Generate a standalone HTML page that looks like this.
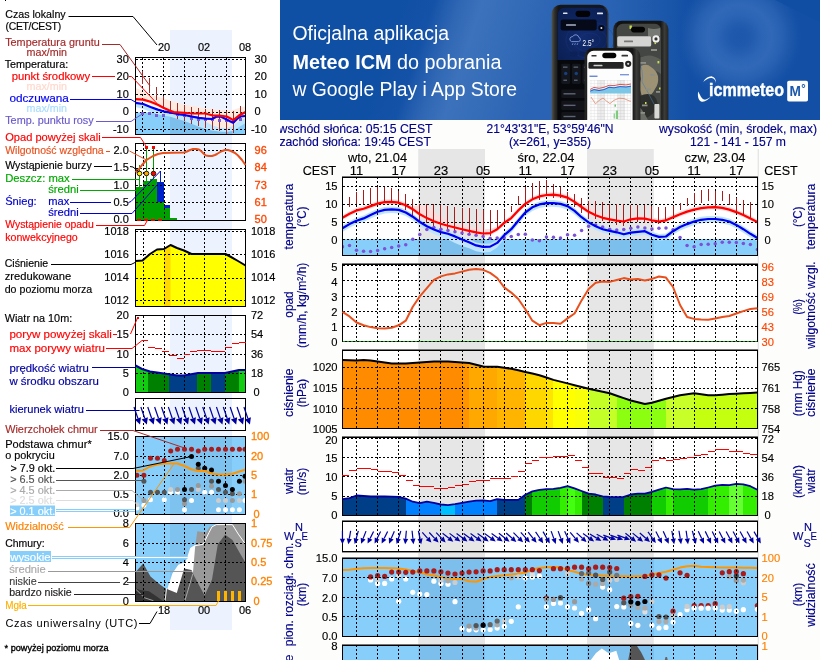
<!DOCTYPE html>
<html lang="pl">
<head>
<meta charset="utf-8">
<title>Meteogram ICM - legenda i prognoza</title>
<style>
html,body{margin:0;padding:0;background:#fff;}
body{width:820px;height:660px;overflow:hidden;position:relative;font-family:"Liberation Sans",Arial,Helvetica,sans-serif;}
#page{position:absolute;left:0;top:0;width:820px;height:660px;display:block;}
#page text{font-family:"Liberation Sans",Arial,Helvetica,sans-serif;}
.crisp{shape-rendering:crispEdges;}
</style>
</head>
<body>
<svg id="page" width="820" height="660" viewBox="0 0 820 660">
<g id="legend">
<rect x="0" y="0" width="280" height="660" fill="#fff"/>
<rect x="170" y="30" width="62" height="600" fill="#edf3fe"/>
<rect x="5" y="0" width="1" height="1.4" fill="#000" class="crisp"/>
<text x="5.2" y="18" font-size="11" fill="#000" stroke="#000" stroke-width="0.16" textLength="60.5" lengthAdjust="spacingAndGlyphs">Czas lokalny</text>
<text x="5.6" y="30" font-size="10.4" fill="#000" stroke="#000" stroke-width="0.16" textLength="55.5" lengthAdjust="spacing">(CET/CEST)</text>
<text x="5.2" y="46" font-size="11" fill="#a52a2a" stroke="#a52a2a" stroke-width="0.16" textLength="94.5" lengthAdjust="spacingAndGlyphs">Temperatura gruntu</text>
<text x="26.5" y="56" font-size="11" fill="#a52a2a" stroke="#a52a2a" stroke-width="0.16" textLength="40.5" lengthAdjust="spacingAndGlyphs">max/min</text>
<text x="4.7" y="67.5" font-size="11" fill="#000" stroke="#000" stroke-width="0.16" textLength="63.5" lengthAdjust="spacingAndGlyphs">Temperatura:</text>
<text x="11.7" y="79.5" font-size="11" fill="#f00" stroke="#f00" stroke-width="0.16" textLength="78.5" lengthAdjust="spacingAndGlyphs">punkt środkowy</text>
<text x="26.5" y="89.5" font-size="11" fill="#ffd8cc" stroke="#ffd8cc" stroke-width="0.16" textLength="40.5" lengthAdjust="spacingAndGlyphs">max/min</text>
<text x="9.4" y="102.4" font-size="11" fill="#0000f0" stroke="#0000f0" stroke-width="0.16" textLength="59.5" lengthAdjust="spacingAndGlyphs">odczuwana</text>
<text x="26.5" y="112.3" font-size="11" fill="#a8dcff" stroke="#a8dcff" stroke-width="0.16" textLength="40.5" lengthAdjust="spacingAndGlyphs">max/min</text>
<text x="5.2" y="124" font-size="11" fill="#6a5acd" stroke="#6a5acd" stroke-width="0.16" textLength="88.5" lengthAdjust="spacingAndGlyphs">Temp. punktu rosy</text>
<text x="5.2" y="141" font-size="11" fill="#f00" stroke="#f00" stroke-width="0.16" textLength="95.5" lengthAdjust="spacingAndGlyphs">Opad powyżej skali</text>
<text x="5.2" y="154.3" font-size="11" fill="#e8501e" stroke="#e8501e" stroke-width="0.16" textLength="98.5" lengthAdjust="spacingAndGlyphs">Wilgotność względna</text>
<text x="5.2" y="169" font-size="11" fill="#000" stroke="#000" stroke-width="0.16" textLength="86.5" lengthAdjust="spacingAndGlyphs">Wystąpienie burzy</text>
<text x="5.2" y="182.3" font-size="11" fill="#00a800" stroke="#00a800" stroke-width="0.16" textLength="64.5" lengthAdjust="spacingAndGlyphs">Deszcz: max</text>
<text x="48.2" y="193" font-size="11" fill="#00a800" stroke="#00a800" stroke-width="0.16" textLength="30.5" lengthAdjust="spacingAndGlyphs">średni</text>
<text x="5.2" y="205" font-size="11" fill="#0000cd" stroke="#0000cd" stroke-width="0.16" textLength="31.5" lengthAdjust="spacingAndGlyphs">Śnieg:</text>
<text x="48.2" y="205" font-size="11" fill="#0000cd" stroke="#0000cd" stroke-width="0.16" textLength="21" lengthAdjust="spacingAndGlyphs">max</text>
<text x="48.2" y="215.7" font-size="11" fill="#0000cd" stroke="#0000cd" stroke-width="0.16" textLength="30.5" lengthAdjust="spacingAndGlyphs">średni</text>
<text x="5.2" y="227.5" font-size="11" fill="#f00" stroke="#f00" stroke-width="0.16" textLength="88.5" lengthAdjust="spacingAndGlyphs">Wystąpienie opadu</text>
<text x="5.2" y="241" font-size="11" fill="#f00" stroke="#f00" stroke-width="0.16" textLength="72.5" lengthAdjust="spacingAndGlyphs">konwekcyjnego</text>
<text x="4.7" y="267" font-size="11" fill="#000" stroke="#000" stroke-width="0.16" textLength="43.5" lengthAdjust="spacingAndGlyphs">Ciśnienie</text>
<text x="4.7" y="280" font-size="11" fill="#000" stroke="#000" stroke-width="0.16" textLength="66.5" lengthAdjust="spacingAndGlyphs">zredukowane</text>
<text x="4.7" y="293.4" font-size="11" fill="#000" stroke="#000" stroke-width="0.16" textLength="87.5" lengthAdjust="spacingAndGlyphs">do poziomu morza</text>
<text x="4.7" y="322.4" font-size="11" fill="#000" stroke="#000" stroke-width="0.16" textLength="67.5" lengthAdjust="spacingAndGlyphs">Wiatr na 10m:</text>
<text x="9.4" y="338" font-size="11" fill="#f00" stroke="#f00" stroke-width="0.16" textLength="102.5" lengthAdjust="spacingAndGlyphs">poryw powyżej skali</text>
<text x="9.4" y="352.4" font-size="11" fill="#f00" stroke="#f00" stroke-width="0.16" textLength="95.5" lengthAdjust="spacingAndGlyphs">max porywy wiatru</text>
<text x="9.4" y="372.2" font-size="11" fill="#0000a0" stroke="#0000a0" stroke-width="0.16" textLength="79.5" lengthAdjust="spacingAndGlyphs">prędkość wiatru</text>
<text x="9.4" y="385" font-size="11" fill="#0000a0" stroke="#0000a0" stroke-width="0.16" textLength="89.5" lengthAdjust="spacingAndGlyphs">w środku obszaru</text>
<text x="9.4" y="412.5" font-size="11" fill="#0000a0" stroke="#0000a0" stroke-width="0.16" textLength="74.5" lengthAdjust="spacingAndGlyphs">kierunek wiatru</text>
<text x="5.2" y="432.7" font-size="11" fill="#a52a2a" stroke="#a52a2a" stroke-width="0.16" textLength="92.5" lengthAdjust="spacingAndGlyphs">Wierzchołek chmur</text>
<text x="5.2" y="447.5" font-size="11" fill="#000" stroke="#000" stroke-width="0.16" textLength="86.5" lengthAdjust="spacingAndGlyphs">Podstawa chmur*</text>
<text x="5.2" y="458.8" font-size="11" fill="#000" stroke="#000" stroke-width="0.16" textLength="49.5" lengthAdjust="spacingAndGlyphs">o pokryciu</text>
<text x="10.4" y="471.8" font-size="11" fill="#000" stroke="#000" stroke-width="0.16" textLength="45" lengthAdjust="spacingAndGlyphs">&gt; 7.9 okt.</text>
<text x="10.2" y="482.7" font-size="11" fill="#555" stroke="#555" stroke-width="0.16" textLength="45" lengthAdjust="spacingAndGlyphs">&gt; 6.5 okt.</text>
<text x="10.2" y="494" font-size="11" fill="#aaa" stroke="#aaa" stroke-width="0.16" textLength="45" lengthAdjust="spacingAndGlyphs">&gt; 4.5 okt.</text>
<text x="10.2" y="504.1" font-size="11" fill="#ddd" stroke="#ddd" stroke-width="0.16" textLength="45" lengthAdjust="spacingAndGlyphs">&gt; 2.5 okt.</text>
<rect x="10" y="505.5" width="45" height="10.5" fill="#87cefa"/>
<text x="10.2" y="514.6" font-size="11" fill="#fff" stroke="#fff" stroke-width="0.16" textLength="45" lengthAdjust="spacingAndGlyphs">&gt; 0.1 okt.</text>
<text x="5.2" y="529.5" font-size="11" fill="#ff8000" stroke="#ff8000" stroke-width="0.16" textLength="58.5" lengthAdjust="spacingAndGlyphs">Widzialność</text>
<text x="5.2" y="546.5" font-size="11" fill="#000" stroke="#000" stroke-width="0.16" textLength="39.5" lengthAdjust="spacingAndGlyphs">Chmury:</text>
<rect x="10" y="551" width="41" height="11" fill="#87cefa"/>
<text x="10.2" y="560.7" font-size="11" fill="#fff" stroke="#fff" stroke-width="0.16" textLength="40.5" lengthAdjust="spacingAndGlyphs">wysokie</text>
<text x="9.2" y="573.2" font-size="11" fill="#aaa" stroke="#aaa" stroke-width="0.16" textLength="36.5" lengthAdjust="spacingAndGlyphs">średnie</text>
<text x="9.2" y="584.7" font-size="11" fill="#444" stroke="#444" stroke-width="0.16" textLength="27.5" lengthAdjust="spacingAndGlyphs">niskie</text>
<text x="9.2" y="596" font-size="11" fill="#222" stroke="#222" stroke-width="0.16" textLength="62.5" lengthAdjust="spacingAndGlyphs">bardzo niskie</text>
<text x="5.2" y="608.7" font-size="11" fill="#ffb000" stroke="#ffb000" stroke-width="0.16" textLength="21.5" lengthAdjust="spacingAndGlyphs">Mgła</text>
<text x="5.4" y="626.6" font-size="11" fill="#000" textLength="132" lengthAdjust="spacing">Czas uniwersalny (UTC)</text>
<text x="4.6" y="650.8" font-size="9.3" fill="#000" textLength="104" lengthAdjust="spacingAndGlyphs" stroke="#000" stroke-width="0.35">* powyżej poziomu morza</text>
<text x="164" y="50.5" font-size="11" fill="#000" stroke="#000" stroke-width="0.16" text-anchor="middle">20</text>
<text x="204" y="50.5" font-size="11" fill="#000" stroke="#000" stroke-width="0.16" text-anchor="middle">02</text>
<text x="245" y="50.5" font-size="11" fill="#000" stroke="#000" stroke-width="0.16" text-anchor="middle">08</text>
<text x="164" y="614" font-size="11" fill="#000" stroke="#000" stroke-width="0.16" text-anchor="middle">18</text>
<text x="204" y="614" font-size="11" fill="#000" stroke="#000" stroke-width="0.16" text-anchor="middle">00</text>
<text x="245" y="614" font-size="11" fill="#000" stroke="#000" stroke-width="0.16" text-anchor="middle">06</text>
<rect x="135.5" y="57.5" width="110" height="77" fill="#fff"/>
<rect x="170" y="57.5" width="62" height="77" fill="#edf3fe"/>
<clipPath id="lc1"><rect x="135.5" y="57.5" width="110" height="77"/></clipPath>
<g clip-path="url(#lc1)">
<rect x="135.5" y="112.5" width="110" height="22" fill="#87cefa"/>
<rect x="170" y="112.5" width="62" height="22" fill="#7cbeec"/>
<polygon points="135.5,102.9 143.2,104 150.5,107 157.8,109.6 163.4,111.3 169.5,112.4 173.9,113.2 179.8,114.3 184.4,115 191.5,116.5 198.8,117.9 205.4,118.7 212,119 216.3,116.7 220.7,116.5 226.6,119.4 230,121.2 233.2,122.8 236.5,119.5 239.8,116.5 245.6,116 245.6,123 238.3,127.4 232.4,131.1 226.6,132.1 219.3,131.5 212,130.4 205.4,128.9 198.8,126.7 191.5,123.8 184.4,120.9 176.8,118.7 169.5,116.5 163.4,115.7 157.8,114.3 150.5,112.1 143.2,109.1 135.5,107" fill="#bfe6ff" stroke="none" stroke-width="1"/>
<polygon points="135.5,87.9 143.2,90.9 150.5,94.5 157.8,96.7 163.4,98.2 169.5,100.4 176.8,102.6 184.4,104.8 191.5,105.8 198.8,107 205.4,108.4 212,109.1 219.3,109.9 226.6,110.2 233.2,109.9 239.8,107.7 245.6,106.2 245.6,118 238.3,121.6 232.4,126 226.6,128.2 219.3,127.4 212,125.2 205.4,121.6 198,116.5 184.4,114.5 169.5,112.4 163.4,109.5 157.8,107 150.5,104 143.2,102 135.5,101.5" fill="#ffeae0" stroke="none" stroke-width="1"/>
</g>
<g class="crisp" stroke="#000" stroke-width="1" stroke-dasharray="2 2" fill="none">
<line x1="142.5" y1="57.5" x2="142.5" y2="134.5"/>
<line x1="163.5" y1="57.5" x2="163.5" y2="134.5"/>
<line x1="184.5" y1="57.5" x2="184.5" y2="134.5"/>
<line x1="205.5" y1="57.5" x2="205.5" y2="134.5"/>
<line x1="226.5" y1="57.5" x2="226.5" y2="134.5"/>
<line x1="135.5" y1="59.5" x2="245.5" y2="59.5"/>
<line x1="135.5" y1="76.5" x2="245.5" y2="76.5"/>
<line x1="135.5" y1="94.5" x2="245.5" y2="94.5"/>
<line x1="135.5" y1="112.5" x2="245.5" y2="112.5"/>
<line x1="135.5" y1="129.5" x2="245.5" y2="129.5"/>
</g>
<rect class="crisp" x="135.5" y="57.5" width="110" height="77" fill="none" stroke="#000" stroke-width="1"/>
<g stroke="#a52a2a" stroke-width="1" class="crisp">
<line x1="142.5" y1="70.6" x2="142.5" y2="83.5"/>
<line x1="149.5" y1="78" x2="149.5" y2="93"/>
<line x1="156.5" y1="87.2" x2="156.5" y2="99.6"/>
<line x1="163.5" y1="96" x2="163.5" y2="107"/>
<line x1="170.5" y1="101" x2="170.5" y2="114.3"/>
<line x1="177.5" y1="102.6" x2="177.5" y2="118.7"/>
<line x1="184.5" y1="104.8" x2="184.5" y2="120.9"/>
<line x1="191.5" y1="107" x2="191.5" y2="123.8"/>
<line x1="198.5" y1="107.7" x2="198.5" y2="126"/>
<line x1="205.5" y1="109.1" x2="205.5" y2="128.2"/>
<line x1="212.5" y1="109.1" x2="212.5" y2="129.6"/>
<line x1="219.5" y1="110.2" x2="219.5" y2="130.7"/>
<line x1="226.5" y1="111" x2="226.5" y2="134"/>
<line x1="233.5" y1="111" x2="233.5" y2="132.6"/>
<line x1="240.5" y1="106.2" x2="240.5" y2="120.9"/>
</g>
<g fill="#7b5bd6" class="crisp">
<rect x="141" y="112" width="3" height="3"/>
<rect x="148" y="112" width="3" height="3"/>
<rect x="155" y="114" width="3" height="3"/>
<rect x="162" y="114" width="3" height="3"/>
<rect x="169" y="111" width="3" height="3"/>
<rect x="176" y="113" width="3" height="3"/>
<rect x="183" y="114" width="3" height="3"/>
<rect x="190" y="117" width="3" height="3"/>
<rect x="197" y="118" width="3" height="3"/>
<rect x="204" y="118" width="3" height="3"/>
<rect x="211" y="118" width="3" height="3"/>
<rect x="218" y="119" width="3" height="3"/>
<rect x="225" y="119" width="3" height="3"/>
<rect x="232" y="120" width="3" height="3"/>
<rect x="239" y="118" width="3" height="3"/>
</g>
<polyline points="135.5,102.9 143.2,104 150.5,107 157.8,109.6 163.4,111.3 169.5,112.4 173.9,113.2 179.8,114.3 184.4,115 191.5,116.5 198.8,117.9 205.4,118.7 212,119 216.3,116.7 220.7,116.5 226.6,119.4 230,121.2 233.2,122.8 236.5,119.5 239.8,116.5 245.6,116" fill="none" stroke="#0000f0" stroke-width="2.2" stroke-linejoin="round" clip-path="url(#lc1)"/>
<polyline points="135.5,99.2 143.2,99.6 150.5,101.8 157.8,104.8 163.4,107.7 169.5,110.6 173.9,112.1 184.4,112.8 191.5,113.5 205.4,113.5 212,115.3 219.3,115.7 226.6,116.5 230,118.3 233.2,120.1 236.5,117.5 239.8,115 245.6,112.1" fill="none" stroke="#f00" stroke-width="2.2" stroke-linejoin="round" clip-path="url(#lc1)"/>
<rect class="crisp" x="135.5" y="57.5" width="110" height="77" fill="none" stroke="#000" stroke-width="1"/>
<text x="128.8" y="62.9" font-size="11" fill="#000" stroke="#000" stroke-width="0.16" text-anchor="end">30</text>
<text x="128.8" y="80.4" font-size="11" fill="#000" stroke="#000" stroke-width="0.16" text-anchor="end">20</text>
<text x="128.8" y="97.9" font-size="11" fill="#000" stroke="#000" stroke-width="0.16" text-anchor="end">10</text>
<text x="128.8" y="115.4" font-size="11" fill="#000" stroke="#000" stroke-width="0.16" text-anchor="end">0</text>
<text x="128.8" y="132.9" font-size="11" fill="#000" stroke="#000" stroke-width="0.16" text-anchor="end">-10</text>
<text x="254.6" y="62.9" font-size="11" fill="#000" stroke="#000" stroke-width="0.16">30</text>
<text x="254.6" y="80.4" font-size="11" fill="#000" stroke="#000" stroke-width="0.16">20</text>
<text x="254.6" y="97.9" font-size="11" fill="#000" stroke="#000" stroke-width="0.16">10</text>
<text x="254.6" y="115.4" font-size="11" fill="#000" stroke="#000" stroke-width="0.16">0</text>
<text x="250.9" y="132.9" font-size="11" fill="#000" stroke="#000" stroke-width="0.16">-10</text>
<rect x="135.5" y="143.5" width="110" height="77" fill="#fff"/>
<rect x="170" y="143.5" width="62" height="77" fill="#edf3fe"/>
<g class="crisp">
<rect x="135.5" y="187" width="7" height="33.5" fill="#00a000"/>
<rect x="142.5" y="181" width="7" height="39.5" fill="#00a000"/>
<rect x="149.5" y="179" width="7.5" height="41.5" fill="#00a000"/>
<rect x="157" y="182" width="7" height="19.5" fill="#0020c8"/>
<rect x="157" y="201.5" width="7" height="19" fill="#00a000"/>
<rect x="164" y="205" width="6" height="2.5" fill="#0020c8"/>
<rect x="164" y="207.5" width="6" height="13" fill="#00a000"/>
<rect x="170" y="218" width="7" height="2.5" fill="#00a000"/>
<line x1="139.5" y1="165" x2="139.5" y2="187" stroke="#00a000" stroke-width="1"/>
<line x1="146.5" y1="146" x2="146.5" y2="181" stroke="#00a000" stroke-width="1"/>
<line x1="153.5" y1="146" x2="153.5" y2="179" stroke="#00a000" stroke-width="1"/>
<line x1="160.5" y1="171" x2="160.5" y2="182" stroke="#0020c8" stroke-width="1"/>
</g>
<g class="crisp" stroke="#000" stroke-width="1" stroke-dasharray="2 2" fill="none">
<line x1="143.5" y1="143.5" x2="143.5" y2="220.5"/>
<line x1="164.5" y1="143.5" x2="164.5" y2="220.5"/>
<line x1="184.5" y1="143.5" x2="184.5" y2="220.5"/>
<line x1="204.5" y1="143.5" x2="204.5" y2="220.5"/>
<line x1="225.5" y1="143.5" x2="225.5" y2="220.5"/>
<line x1="135.5" y1="150.5" x2="245.5" y2="150.5"/>
<line x1="135.5" y1="168.5" x2="245.5" y2="168.5"/>
<line x1="135.5" y1="185.5" x2="245.5" y2="185.5"/>
<line x1="135.5" y1="202.5" x2="245.5" y2="202.5"/>
</g>
<rect class="crisp" x="135.5" y="143.5" width="110" height="77" fill="none" stroke="#000" stroke-width="1"/>
<g class="crisp" fill="#f00">
<rect x="145" y="146" width="3" height="3" fill="#f00"/>
<rect x="152" y="146" width="3" height="3" fill="#f00"/>
<rect x="137" y="219" width="4" height="1.5" fill="#f00"/>
<rect x="144" y="219" width="4" height="1.5" fill="#f00"/>
<rect x="151" y="219" width="4" height="1.5" fill="#f00"/>
<rect x="158" y="219" width="4" height="1.5" fill="#f00"/>
</g>
<polyline points="135.5,172.3 139,169 142,165 146.5,160 153,156 158,154 163,153 184,152.5 187,151.5 190,150 193,149 196,149 199,149.5 201,151 204,154 206,155.5 209,156 212,156 215,155 217,154 221,151.5 225,150 228,150 231,151 235,153 238,155.5 242,160 245.5,165" fill="none" stroke="#e8501e" stroke-width="2" stroke-linejoin="round"/>
<circle cx="139.5" cy="173.5" r="2.3" fill="#ffee00" stroke="#302000" stroke-width="1"/>
<circle cx="146.5" cy="173.5" r="2.3" fill="#ffa500" stroke="#302000" stroke-width="1"/>
<circle cx="153.5" cy="173.5" r="2.3" fill="#ff0000" stroke="#302000" stroke-width="1"/>
<text x="128.8" y="153.9" font-size="11" fill="#000" stroke="#000" stroke-width="0.16" text-anchor="end">2.0</text>
<text x="128.8" y="171.4" font-size="11" fill="#000" stroke="#000" stroke-width="0.16" text-anchor="end">1.5</text>
<text x="128.8" y="188.9" font-size="11" fill="#000" stroke="#000" stroke-width="0.16" text-anchor="end">1.0</text>
<text x="128.8" y="206.4" font-size="11" fill="#000" stroke="#000" stroke-width="0.16" text-anchor="end">0.5</text>
<text x="128.8" y="223.4" font-size="11" fill="#000" stroke="#000" stroke-width="0.16" text-anchor="end">0.0</text>
<text x="254.6" y="153.9" font-size="11" fill="#ff4500" stroke="#ff4500" stroke-width="0.3">96</text>
<text x="254.6" y="171.4" font-size="11" fill="#ff4500" stroke="#ff4500" stroke-width="0.3">84</text>
<text x="254.6" y="188.9" font-size="11" fill="#ff4500" stroke="#ff4500" stroke-width="0.3">73</text>
<text x="254.6" y="206.4" font-size="11" fill="#ff4500" stroke="#ff4500" stroke-width="0.3">61</text>
<text x="254.6" y="223.4" font-size="11" fill="#ff4500" stroke="#ff4500" stroke-width="0.3">50</text>
<rect x="135.5" y="229.5" width="110" height="77" fill="#fff"/>
<rect x="170" y="229.5" width="62" height="77" fill="#edf3fe"/>
<polygon points="135.5,261 142.5,260.5 150,254 157,249.5 164,249 170.5,245 177,248 184,250.5 191.5,254 225.5,254 231,257 238,261 245.5,265.5 245.5,306.5 135.5,306.5" fill="#ffff00" stroke="none" stroke-width="1"/>
<polygon points="164,249 170.5,245 170.5,306.5 164,306.5" fill="#ffd800" stroke="none" stroke-width="1"/>
<g class="crisp" stroke="#000" stroke-width="1" stroke-dasharray="2 2" fill="none">
<line x1="143.5" y1="229.5" x2="143.5" y2="306.5"/>
<line x1="164.5" y1="229.5" x2="164.5" y2="306.5"/>
<line x1="184.5" y1="229.5" x2="184.5" y2="306.5"/>
<line x1="204.5" y1="229.5" x2="204.5" y2="306.5"/>
<line x1="225.5" y1="229.5" x2="225.5" y2="306.5"/>
<line x1="135.5" y1="231.5" x2="245.5" y2="231.5"/>
<line x1="135.5" y1="254.5" x2="245.5" y2="254.5"/>
<line x1="135.5" y1="278.5" x2="245.5" y2="278.5"/>
<line x1="135.5" y1="300.5" x2="245.5" y2="300.5"/>
</g>
<rect class="crisp" x="135.5" y="229.5" width="110" height="77" fill="none" stroke="#000" stroke-width="1"/>
<polyline points="135.5,261 142.5,260.5 150,254 157,249.5 164,249 170.5,245 177,248 184,250.5 191.5,254 225.5,254 231,257 238,261 245.5,265.5" fill="none" stroke="#000" stroke-width="2" stroke-linejoin="round"/>
<text x="128.8" y="234.9" font-size="11" fill="#000" stroke="#000" stroke-width="0.16" text-anchor="end">1018</text>
<text x="128.8" y="257.9" font-size="11" fill="#000" stroke="#000" stroke-width="0.16" text-anchor="end">1016</text>
<text x="128.8" y="281.4" font-size="11" fill="#000" stroke="#000" stroke-width="0.16" text-anchor="end">1014</text>
<text x="128.8" y="304.4" font-size="11" fill="#000" stroke="#000" stroke-width="0.16" text-anchor="end">1012</text>
<text x="251" y="234.9" font-size="11" fill="#000" stroke="#000" stroke-width="0.16">1018</text>
<text x="251" y="257.9" font-size="11" fill="#000" stroke="#000" stroke-width="0.16">1016</text>
<text x="251" y="281.4" font-size="11" fill="#000" stroke="#000" stroke-width="0.16">1014</text>
<text x="251" y="304.4" font-size="11" fill="#000" stroke="#000" stroke-width="0.16">1012</text>
<rect x="135.5" y="315.5" width="110" height="77" fill="#fff"/>
<rect x="170" y="315.5" width="62" height="77" fill="#edf3fe"/>
<polygon points="135.5,365.5 142,369 148,370.88 148,392.5 135.5,392.5" fill="#11cc11" stroke="none" stroke-width="1" class="crisp"/>
<polygon points="148,370.88 150,371.5 164,373.5 169,374.27 169,392.5 148,392.5" fill="#008000" stroke="none" stroke-width="1" class="crisp"/>
<polygon points="169,374.27 177,375.5 184,375.5 197,373.18 197,392.5 169,392.5" fill="#003f87" stroke="none" stroke-width="1" class="crisp"/>
<polygon points="197,373.18 198,373 211,373 211,392.5 197,392.5" fill="#008000" stroke="none" stroke-width="1" class="crisp"/>
<polygon points="211,373 225,373 225,392.5 211,392.5" fill="#003f87" stroke="none" stroke-width="1" class="crisp"/>
<polygon points="225,373 232,371.5 239,370 239,392.5 225,392.5" fill="#008000" stroke="none" stroke-width="1" class="crisp"/>
<polygon points="239,370 245.5,370 245.5,392.5 239,392.5" fill="#11cc11" stroke="none" stroke-width="1" class="crisp"/>
<g class="crisp" stroke="#000" stroke-width="1" stroke-dasharray="2 2" fill="none">
<line x1="143.5" y1="315.5" x2="143.5" y2="392.5"/>
<line x1="164.5" y1="315.5" x2="164.5" y2="392.5"/>
<line x1="184.5" y1="315.5" x2="184.5" y2="392.5"/>
<line x1="204.5" y1="315.5" x2="204.5" y2="392.5"/>
<line x1="225.5" y1="315.5" x2="225.5" y2="392.5"/>
<line x1="135.5" y1="334.5" x2="245.5" y2="334.5"/>
<line x1="135.5" y1="354.5" x2="245.5" y2="354.5"/>
<line x1="135.5" y1="373.5" x2="245.5" y2="373.5"/>
</g>
<rect class="crisp" x="135.5" y="315.5" width="110" height="77" fill="none" stroke="#000" stroke-width="1"/>
<polyline points="135.5,365.5 142,369 150,371.5 164,373.5 177,375.5 184,375.5 198,373 225,373 232,371.5 239,370 245.5,370" fill="none" stroke="#00009c" stroke-width="2" stroke-linejoin="round"/>
<g stroke="#f00" stroke-width="1" class="crisp">
<line x1="142" y1="340.5" x2="148" y2="340.5"/>
<line x1="148" y1="347.5" x2="155" y2="347.5"/>
<line x1="155" y1="348.5" x2="162" y2="348.5"/>
<line x1="162" y1="351.5" x2="169" y2="351.5"/>
<line x1="169" y1="355.5" x2="176.5" y2="355.5"/>
<line x1="176.5" y1="358.5" x2="184" y2="358.5"/>
<line x1="184" y1="354.5" x2="190" y2="354.5"/>
<line x1="190" y1="351.5" x2="197" y2="351.5"/>
<line x1="197" y1="350.5" x2="211" y2="350.5"/>
<line x1="211" y1="351.5" x2="225" y2="351.5"/>
<line x1="225" y1="347.5" x2="232" y2="347.5"/>
<line x1="232" y1="343.5" x2="239" y2="343.5"/>
<line x1="239" y1="342.5" x2="245.5" y2="342.5"/>
</g>
<rect x="136.5" y="316.5" width="2" height="2" fill="#f00" class="crisp"/>
<text x="128.8" y="319.4" font-size="11" fill="#000" stroke="#000" stroke-width="0.16" text-anchor="end">20</text>
<text x="128.8" y="337.9" font-size="11" fill="#000" stroke="#000" stroke-width="0.16" text-anchor="end">15</text>
<text x="128.8" y="357.9" font-size="11" fill="#000" stroke="#000" stroke-width="0.16" text-anchor="end">10</text>
<text x="128.8" y="376.9" font-size="11" fill="#000" stroke="#000" stroke-width="0.16" text-anchor="end">5</text>
<text x="128.8" y="395.9" font-size="11" fill="#000" stroke="#000" stroke-width="0.16" text-anchor="end">0</text>
<text x="251" y="319.4" font-size="11" fill="#000" stroke="#000" stroke-width="0.16">72</text>
<text x="251" y="337.9" font-size="11" fill="#000" stroke="#000" stroke-width="0.16">54</text>
<text x="251" y="357.9" font-size="11" fill="#000" stroke="#000" stroke-width="0.16">36</text>
<text x="251" y="376.9" font-size="11" fill="#000" stroke="#000" stroke-width="0.16">18</text>
<text x="253.4" y="395.9" font-size="11" fill="#000" stroke="#000" stroke-width="0.16">0</text>
<rect x="135.5" y="398.5" width="110" height="32" fill="#fff"/>
<rect x="170" y="398.5" width="62" height="32" fill="#edf3fe"/>
<g class="crisp" stroke="#000" stroke-width="1" stroke-dasharray="2 2" fill="none">
<line x1="143.5" y1="398.5" x2="143.5" y2="430.5"/>
<line x1="164.5" y1="398.5" x2="164.5" y2="430.5"/>
<line x1="184.5" y1="398.5" x2="184.5" y2="430.5"/>
<line x1="204.5" y1="398.5" x2="204.5" y2="430.5"/>
<line x1="225.5" y1="398.5" x2="225.5" y2="430.5"/>
</g>
<rect class="crisp" x="135.5" y="398.5" width="110" height="32" fill="none" stroke="#000" stroke-width="1"/>
<g stroke="#0000a0" stroke-width="1.2" fill="#0000a0">
<path d="M134 407.05L137.86 418.31" fill="none"/>
<path d="M140 424.55L134.74 419.38L140.98 417.24Z" stroke="none"/>
<path d="M140.87 407.05L144.73 418.31" fill="none"/>
<path d="M146.87 424.55L141.61 419.38L147.85 417.24Z" stroke="none"/>
<path d="M147.74 407.05L151.6 418.31" fill="none"/>
<path d="M153.74 424.55L148.48 419.38L154.72 417.24Z" stroke="none"/>
<path d="M154.61 407.05L158.47 418.31" fill="none"/>
<path d="M160.61 424.55L155.35 419.38L161.59 417.24Z" stroke="none"/>
<path d="M161.48 407.05L165.34 418.31" fill="none"/>
<path d="M167.48 424.55L162.22 419.38L168.46 417.24Z" stroke="none"/>
<path d="M168.35 407.05L172.21 418.31" fill="none"/>
<path d="M174.35 424.55L169.09 419.38L175.33 417.24Z" stroke="none"/>
<path d="M175.22 407.05L179.08 418.31" fill="none"/>
<path d="M181.22 424.55L175.96 419.38L182.2 417.24Z" stroke="none"/>
<path d="M182.09 407.05L185.95 418.31" fill="none"/>
<path d="M188.09 424.55L182.83 419.38L189.07 417.24Z" stroke="none"/>
<path d="M188.96 407.05L192.82 418.31" fill="none"/>
<path d="M194.96 424.55L189.7 419.38L195.94 417.24Z" stroke="none"/>
<path d="M195.83 407.05L199.69 418.31" fill="none"/>
<path d="M201.83 424.55L196.57 419.38L202.81 417.24Z" stroke="none"/>
<path d="M202.7 407.05L206.56 418.31" fill="none"/>
<path d="M208.7 424.55L203.44 419.38L209.68 417.24Z" stroke="none"/>
<path d="M209.57 407.05L213.43 418.31" fill="none"/>
<path d="M215.57 424.55L210.31 419.38L216.55 417.24Z" stroke="none"/>
<path d="M216.44 407.05L220.3 418.31" fill="none"/>
<path d="M222.44 424.55L217.18 419.38L223.42 417.24Z" stroke="none"/>
<path d="M223.31 407.05L227.17 418.31" fill="none"/>
<path d="M229.31 424.55L224.05 419.38L230.29 417.24Z" stroke="none"/>
<path d="M230.18 407.05L234.04 418.31" fill="none"/>
<path d="M236.18 424.55L230.92 419.38L237.16 417.24Z" stroke="none"/>
<path d="M237.05 407.05L240.91 418.31" fill="none"/>
<path d="M243.05 424.55L237.79 419.38L244.03 417.24Z" stroke="none"/>
<path d="M243.92 407.05L247.78 418.31" fill="none"/>
<path d="M249.92 424.55L244.66 419.38L250.9 417.24Z" stroke="none"/>
</g>
<rect x="135.5" y="436.5" width="110" height="78" fill="#87cefa"/>
<rect x="170" y="436.5" width="62" height="78" fill="#7ec2f0"/>
<g class="crisp" stroke="#000" stroke-width="1" stroke-dasharray="2 2" fill="none">
<line x1="143.5" y1="436.5" x2="143.5" y2="514.5"/>
<line x1="164.5" y1="436.5" x2="164.5" y2="514.5"/>
<line x1="184.5" y1="436.5" x2="184.5" y2="514.5"/>
<line x1="204.5" y1="436.5" x2="204.5" y2="514.5"/>
<line x1="225.5" y1="436.5" x2="225.5" y2="514.5"/>
<line x1="135.5" y1="456.5" x2="245.5" y2="456.5"/>
<line x1="135.5" y1="475.5" x2="245.5" y2="475.5"/>
<line x1="135.5" y1="494.5" x2="245.5" y2="494.5"/>
</g>
<rect class="crisp" x="135.5" y="436.5" width="110" height="78" fill="none" stroke="#000" stroke-width="1"/>
<clipPath id="lc6"><rect x="135.5" y="436.5" width="110" height="78"/></clipPath>
<g clip-path="url(#lc6)">
<circle cx="150.5" cy="499.8" r="2.5" fill="#fff"/>
<circle cx="164.3" cy="499.8" r="2.5" fill="#fff"/>
<circle cx="170.7" cy="492.3" r="2.5" fill="#fff"/>
<circle cx="177.5" cy="492.3" r="2.5" fill="#fff"/>
<circle cx="191.5" cy="500.4" r="2.5" fill="#fff"/>
<circle cx="204.7" cy="492.3" r="2.5" fill="#fff"/>
<circle cx="211.5" cy="492.3" r="2.5" fill="#fff"/>
<circle cx="184.5" cy="509.7" r="2.5" fill="#fff"/>
<circle cx="218.5" cy="509.7" r="2.5" fill="#fff"/>
<circle cx="225.5" cy="509.7" r="2.5" fill="#fff"/>
<circle cx="232.4" cy="509.7" r="2.5" fill="#fff"/>
<circle cx="239.4" cy="509.7" r="2.5" fill="#fff"/>
<circle cx="143.9" cy="505.3" r="2.5" fill="#fff"/>
<circle cx="136.9" cy="508" r="2.5" fill="#fff"/>
<circle cx="245" cy="500.4" r="2.5" fill="#fff"/>
<circle cx="170.7" cy="489.5" r="2.5" fill="#ccc"/>
<circle cx="198.3" cy="489.5" r="2.5" fill="#ccc"/>
<circle cx="218.5" cy="500.4" r="2.5" fill="#ccc"/>
<circle cx="225.5" cy="500.4" r="2.5" fill="#ccc"/>
<circle cx="239.4" cy="500.4" r="2.5" fill="#ccc"/>
<circle cx="136.9" cy="504.8" r="2.5" fill="#ccc"/>
<circle cx="143.9" cy="500.4" r="2.5" fill="#999"/>
<circle cx="177.5" cy="489.5" r="2.5" fill="#999"/>
<circle cx="198.3" cy="485.5" r="2.5" fill="#999"/>
<circle cx="211.5" cy="486.2" r="2.5" fill="#999"/>
<circle cx="232.4" cy="500.4" r="2.5" fill="#999"/>
<circle cx="239.4" cy="493.8" r="2.5" fill="#999"/>
<circle cx="245" cy="481.3" r="2.5" fill="#999"/>
<circle cx="184.5" cy="503.7" r="2.5" fill="#999"/>
<circle cx="143.9" cy="481.3" r="2.5" fill="#555"/>
<circle cx="150.5" cy="492.3" r="2.5" fill="#555"/>
<circle cx="157.5" cy="492.3" r="2.5" fill="#555"/>
<circle cx="164.3" cy="492.3" r="2.5" fill="#555"/>
<circle cx="184.5" cy="499.8" r="2.5" fill="#555"/>
<circle cx="211.5" cy="481.3" r="2.5" fill="#555"/>
<circle cx="218.5" cy="489.5" r="2.5" fill="#555"/>
<circle cx="225.5" cy="492.3" r="2.5" fill="#555"/>
<circle cx="232.4" cy="493.8" r="2.5" fill="#555"/>
<circle cx="191.5" cy="489.5" r="2.5" fill="#555"/>
<circle cx="198.3" cy="468.2" r="2.5" fill="#555"/>
<circle cx="191.5" cy="456.5" r="2.5" fill="#000"/>
<circle cx="198.3" cy="464.2" r="2.5" fill="#000"/>
<circle cx="204.7" cy="468.2" r="2.5" fill="#000"/>
<circle cx="211.5" cy="470.1" r="2.5" fill="#000"/>
<circle cx="218.5" cy="481.3" r="2.5" fill="#000"/>
<circle cx="225.5" cy="485.5" r="2.5" fill="#000"/>
<circle cx="232.4" cy="489.5" r="2.5" fill="#000"/>
<circle cx="239.4" cy="481.3" r="2.5" fill="#000"/>
<circle cx="245" cy="476.3" r="2.5" fill="#000"/>
<circle cx="184.5" cy="489.5" r="2.5" fill="#000"/>
<circle cx="136.9" cy="475.2" r="2.5" fill="#a81c1c"/>
<circle cx="143.9" cy="475.2" r="2.5" fill="#a81c1c"/>
<circle cx="150.5" cy="458.3" r="2.5" fill="#a81c1c"/>
<circle cx="157.5" cy="458.3" r="2.5" fill="#a81c1c"/>
<circle cx="164.3" cy="460.5" r="2.5" fill="#a81c1c"/>
<circle cx="170.7" cy="451" r="2.5" fill="#a81c1c"/>
<circle cx="177.5" cy="449.3" r="2.5" fill="#a81c1c"/>
<circle cx="184.5" cy="449.3" r="2.5" fill="#a81c1c"/>
<circle cx="191.5" cy="449.3" r="2.5" fill="#a81c1c"/>
<circle cx="198.3" cy="451" r="2.5" fill="#a81c1c"/>
<circle cx="204.7" cy="449.3" r="2.5" fill="#a81c1c"/>
<circle cx="211.5" cy="449.3" r="2.5" fill="#a81c1c"/>
<circle cx="218.5" cy="449.3" r="2.5" fill="#a81c1c"/>
<circle cx="225.5" cy="449.3" r="2.5" fill="#a81c1c"/>
<circle cx="232.4" cy="449.3" r="2.5" fill="#a81c1c"/>
<circle cx="239.4" cy="449.3" r="2.5" fill="#a81c1c"/>
<circle cx="245" cy="449.3" r="2.5" fill="#a81c1c"/>
<polyline points="135.5,470.8 143,470.5 150,466.5 157,464.5 164,463.5 177.5,463.5 184.5,466 191.5,469.5 198,471 205,471 211.5,473.5 218.5,474.5 225.5,474.5 232.5,473.8 239.5,471.5 245.5,469.5" fill="none" stroke="#ff9500" stroke-width="2" stroke-linejoin="round"/>
</g>
<rect class="crisp" x="135.5" y="436.5" width="110" height="78" fill="none" stroke="#000" stroke-width="1"/>
<text x="128.8" y="440.4" font-size="11" fill="#000" stroke="#000" stroke-width="0.16" text-anchor="end">15.0</text>
<text x="128.8" y="459.9" font-size="11" fill="#000" stroke="#000" stroke-width="0.16" text-anchor="end">7.0</text>
<text x="128.8" y="478.9" font-size="11" fill="#000" stroke="#000" stroke-width="0.16" text-anchor="end">2.0</text>
<text x="128.8" y="498.4" font-size="11" fill="#000" stroke="#000" stroke-width="0.16" text-anchor="end">0.5</text>
<text x="128.8" y="517.4" font-size="11" fill="#000" stroke="#000" stroke-width="0.16" text-anchor="end">0.0</text>
<text x="251" y="440.4" font-size="11" fill="#ff8000" stroke="#ff8000" stroke-width="0.3">100</text>
<text x="251" y="459.9" font-size="11" fill="#ff8000" stroke="#ff8000" stroke-width="0.3">20</text>
<text x="251" y="478.9" font-size="11" fill="#ff8000" stroke="#ff8000" stroke-width="0.3">5</text>
<text x="251" y="498.4" font-size="11" fill="#ff8000" stroke="#ff8000" stroke-width="0.3">1</text>
<text x="253.4" y="517.9" font-size="11" fill="#ff8000" stroke="#ff8000" stroke-width="0.3">0</text>
<rect x="135.5" y="523.5" width="110" height="78" fill="#87cefa"/>
<rect x="170" y="523.5" width="62" height="78" fill="#7ec2f0"/>
<clipPath id="lc7"><rect x="135.5" y="523.5" width="110" height="78"/></clipPath>
<g clip-path="url(#lc7)">
<polygon points="165.1,601.5 168,586.8 172.4,573.6 178.3,564.8 185.6,561.9 190,548.7 194.4,545.8 203.2,544.3 209,532.6 212,526.8 216.3,524.6 232.4,524.6 238.3,534.1 246,544.3 246,601.5" fill="#fff" stroke="none" stroke-width="1"/>
<polygon points="192.9,573.6 195.1,547.3 197.3,531.2 206.1,532.6 209.8,526.8 216.3,524.6 222,523.5 246,523.5 246,602 185,602" fill="#999" stroke="none" stroke-width="1"/>
<polyline points="190,548.7 194.4,545.8 203.2,544.3 209,532.6 212,526.8 216.3,524.6 232.4,524.6 238.3,534.1 245.6,544.3" fill="none" stroke="#fff" stroke-width="1"/>
<polygon points="135.5,572.2 143.2,563.4 150.5,576.5 159.3,583.9 165.1,588.2 176.8,592.9 184.2,568.5 191.5,570 194.4,576.5 204.6,595.6 212,579.5 217.8,544.3 225.1,534.8 232.4,540 239.8,553.1 246,563.4 246,602 135.5,602" fill="#555" stroke="none" stroke-width="1"/>
<polygon points="135.5,588.2 140,590 149,591.2 156,596 163.7,601.5 135.5,601.5" fill="#333" stroke="none" stroke-width="1"/>
<polyline points="135.5,589 144.6,597.8 153.4,600.7" fill="none" stroke="#bbb" stroke-width="0.8"/>
<polyline points="165.1,600.7 166.6,588.2" fill="none" stroke="#fff" stroke-width="0.9"/>
<polyline points="184.9,600.7 192.9,573.6" fill="none" stroke="#bbb" stroke-width="0.8"/>
</g>
<g class="crisp" stroke="#000" stroke-width="1" stroke-dasharray="2 2" fill="none">
<line x1="143.5" y1="523.5" x2="143.5" y2="601.5"/>
<line x1="164.5" y1="523.5" x2="164.5" y2="601.5"/>
<line x1="184.5" y1="523.5" x2="184.5" y2="601.5"/>
<line x1="204.5" y1="523.5" x2="204.5" y2="601.5"/>
<line x1="225.5" y1="523.5" x2="225.5" y2="601.5"/>
<line x1="135.5" y1="543.5" x2="245.5" y2="543.5"/>
<line x1="135.5" y1="562.5" x2="245.5" y2="562.5"/>
<line x1="135.5" y1="582.5" x2="245.5" y2="582.5"/>
</g>
<rect class="crisp" x="135.5" y="523.5" width="110" height="78" fill="none" stroke="#000" stroke-width="1"/>
<g class="crisp">
<rect x="217" y="590.5" width="3" height="11" fill="#ffb400"/>
<rect x="224" y="590.5" width="3" height="11" fill="#ffb400"/>
<rect x="231" y="590.5" width="3" height="11" fill="#ffb400"/>
<rect x="238" y="590.5" width="3" height="11" fill="#ffb400"/>
</g>
<rect class="crisp" x="135.5" y="523.5" width="110" height="78" fill="none" stroke="#000" stroke-width="1"/>
<text x="128.8" y="527.4" font-size="11" fill="#000" stroke="#000" stroke-width="0.16" text-anchor="end">8</text>
<text x="128.8" y="546.9" font-size="11" fill="#000" stroke="#000" stroke-width="0.16" text-anchor="end">6</text>
<text x="128.8" y="565.9" font-size="11" fill="#000" stroke="#000" stroke-width="0.16" text-anchor="end">4</text>
<text x="128.8" y="585.4" font-size="11" fill="#000" stroke="#000" stroke-width="0.16" text-anchor="end">2</text>
<text x="128.8" y="604.9" font-size="11" fill="#000" stroke="#000" stroke-width="0.16" text-anchor="end">0</text>
<text x="251" y="527.4" font-size="11" fill="#ff8000" stroke="#ff8000" stroke-width="0.3">1</text>
<text x="251" y="546.9" font-size="11" fill="#ff8000" stroke="#ff8000" stroke-width="0.3">0.75</text>
<text x="251" y="565.9" font-size="11" fill="#ff8000" stroke="#ff8000" stroke-width="0.3">0.5</text>
<text x="251" y="585.4" font-size="11" fill="#ff8000" stroke="#ff8000" stroke-width="0.3">0.25</text>
<text x="253.4" y="604.9" font-size="11" fill="#ff8000" stroke="#ff8000" stroke-width="0.3">0</text>
<g fill="none" stroke-width="1">
<polyline points="68.5,16.5 133,16.5 157,45" fill="none" stroke="#000" stroke-width="1"/>
<polyline points="102,44.5 120,44.5 150,86" fill="none" stroke="#a52a2a" stroke-width="1"/>
<polyline points="92,76.5 115,76.5" fill="none" stroke="#f00" stroke-width="1"/>
<polyline points="129,76.5 131.5,76.5 157,103.5" fill="none" stroke="#f00" stroke-width="1"/>
<polyline points="70,99.5 131,99.5 136,102.5" fill="none" stroke="#0000f0" stroke-width="1"/>
<polyline points="96,121.5 131,121.5 136,118 141.5,114.5" fill="none" stroke="#6a5acd" stroke-width="1"/>
<polyline points="102,137.5 140.5,137.5 146,146" fill="none" stroke="#f00" stroke-width="1"/>
<polyline points="106,151.5 110,151.5" fill="none" stroke="#e8501e" stroke-width="1"/>
<polyline points="129.5,151 146.5,160" fill="none" stroke="#e8501e" stroke-width="1"/>
<polyline points="94,166.5 112,166.5" fill="none" stroke="#000" stroke-width="1"/>
<polyline points="130,166.5 133,167 139,172" fill="none" stroke="#000" stroke-width="1"/>
<polyline points="72,179.5 139,179.5" fill="none" stroke="#00a800" stroke-width="1"/>
<polyline points="80,190.5 136,190.5" fill="none" stroke="#00a800" stroke-width="1"/>
<polyline points="70,202.5 111,202.5" fill="none" stroke="#0000cd" stroke-width="1"/>
<polyline points="128.5,202.5 131,201.5 160.5,171" fill="none" stroke="#0000cd" stroke-width="1"/>
<polyline points="80,213.5 132,213.5 157.5,184.5" fill="none" stroke="#0000cd" stroke-width="1"/>
<polyline points="96,225.5 144.5,225.5 147,221" fill="none" stroke="#f00" stroke-width="1"/>
<polyline points="51,264.5 131,264.5 136,262" fill="none" stroke="#000" stroke-width="1"/>
<polyline points="113,334.5 117,334.5" fill="none" stroke="#f00" stroke-width="1"/>
<polyline points="130.5,334 137.5,318" fill="none" stroke="#f00" stroke-width="1"/>
<polyline points="106,348.5 132,348.5 142,340.5" fill="none" stroke="#f00" stroke-width="1"/>
<polyline points="92,367.5 135.5,367.5" fill="none" stroke="#0000a0" stroke-width="1"/>
<polyline points="86,410.5 139.5,410.5" fill="none" stroke="#0000a0" stroke-width="1"/>
<polyline points="100,430.5 133,430.5 184.5,448" fill="none" stroke="#a52a2a" stroke-width="1"/>
<polyline points="56,468.5 133,468.5 191.5,456.5" fill="none" stroke="#000" stroke-width="1"/>
<polyline points="56,480.5 143,480.5" fill="none" stroke="#555" stroke-width="1"/>
<polyline points="56,490.5 132,490.5 143,500" fill="none" stroke="#aaa" stroke-width="1"/>
<polyline points="56,500.5 133,500.5 137,504.5" fill="none" stroke="#ddd" stroke-width="1"/>
<polyline points="56,509.5 135,509.5" fill="none" stroke="#87cefa" stroke-width="1"/>
<polyline points="56,511.5 135,511.5" fill="none" stroke="#87cefa" stroke-width="1"/>
<polyline points="68,527.5 129.5,527.5 173.5,464.5" fill="none" stroke="#ff9500" stroke-width="1"/>
<polyline points="52,556.5 187.5,556.5" fill="none" stroke="#87cefa" stroke-width="1"/>
<polyline points="52,558.5 187.5,558.5" fill="none" stroke="#87cefa" stroke-width="1"/>
<polyline points="52,557.5 187.5,557.5" fill="none" stroke="#fff" stroke-width="1"/>
<polyline points="48,571.5 192,571.5" fill="none" stroke="#999" stroke-width="1"/>
<polyline points="38,582.5 120,582.5" fill="none" stroke="#444" stroke-width="1"/>
<polyline points="127,582.5 135,582.5" fill="none" stroke="#444" stroke-width="1"/>
<polyline points="74,594.5 144,594.5" fill="none" stroke="#222" stroke-width="1"/>
<polyline points="28,605.5 216,605.5 218.5,601" fill="none" stroke="#ffb000" stroke-width="1"/>
<polyline points="139,623.5 150,623.5 157,611.5" fill="none" stroke="#000" stroke-width="1"/>
</g>
</g>
<g id="banner">
<defs>
<linearGradient id="beam" gradientUnits="userSpaceOnUse" x1="402" y1="0" x2="548" y2="48">
<stop offset="0" stop-color="#0f4fa4"/><stop offset="0.2" stop-color="#1452a7"/><stop offset="0.36" stop-color="#3067b4"/><stop offset="0.5" stop-color="#3c72bb"/><stop offset="0.72" stop-color="#356cb8"/><stop offset="1" stop-color="#2a63b3"/>
</linearGradient>
<linearGradient id="rfade" gradientUnits="userSpaceOnUse" x1="610" y1="0" x2="690" y2="0">
<stop offset="0" stop-color="#1350a5" stop-opacity="0"/><stop offset="1" stop-color="#1350a5" stop-opacity="1"/>
</linearGradient>
<radialGradient id="bg2" cx="739.5" cy="37" r="64" gradientUnits="userSpaceOnUse">
<stop offset="0" stop-color="#1d57ab"/><stop offset="0.14" stop-color="#1f59ad"/><stop offset="0.36" stop-color="#2c65b5"/><stop offset="0.5" stop-color="#3169b8"/><stop offset="0.68" stop-color="#2760b1"/><stop offset="0.86" stop-color="#1a55a9" stop-opacity="0.8"/><stop offset="1" stop-color="#1350a5" stop-opacity="0"/>
</radialGradient>
<clipPath id="bclip"><rect x="280" y="0" width="540" height="120"/></clipPath>
</defs>
<g clip-path="url(#bclip)">
<rect x="280" y="0" width="540" height="120" fill="url(#beam)"/>
<rect x="610" y="0" width="210" height="120" fill="url(#rfade)"/>
<rect x="670" y="0" width="150" height="120" fill="url(#bg2)"/>
<polygon points="775,0 820,0 820,22" fill="#0f4ea3" stroke="none" stroke-width="1" fill-opacity="0.8"/>
<linearGradient id="fr1" x1="0" y1="0" x2="1" y2="0"><stop offset="0" stop-color="#55554f"/><stop offset="0.06" stop-color="#2c2c2a"/><stop offset="0.12" stop-color="#161617"/><stop offset="0.9" stop-color="#161617"/><stop offset="1" stop-color="#3a3a38"/></linearGradient>
<linearGradient id="fr2" x1="0" y1="0" x2="1" y2="0"><stop offset="0" stop-color="#2a2a2a"/><stop offset="0.08" stop-color="#121212"/><stop offset="0.86" stop-color="#161616"/><stop offset="0.93" stop-color="#3c3c3a"/><stop offset="1" stop-color="#242424"/></linearGradient>
<radialGradient id="nv" cx="0.5" cy="0.55" r="0.7"><stop offset="0" stop-color="#122c70"/><stop offset="1" stop-color="#0a1e50"/></radialGradient>
<rect x="551.5" y="4.8" width="57" height="130" rx="9" fill="url(#fr1)"/>
<rect x="557.5" y="7.6" width="49.5" height="125" rx="7" fill="#07080c"/>
<path d="M557.5 60V14.6a7 7 0 0 1 7 -7h35.5a7 7 0 0 1 7 7V60z" fill="url(#nv)"/>
<g fill="none" stroke="#1c3a86" stroke-width="0.5" stroke-opacity="0.7"><ellipse cx="590" cy="40" rx="10" ry="7"/><ellipse cx="590" cy="40" rx="17" ry="12"/><ellipse cx="590" cy="40" rx="24" ry="18"/></g>
<rect x="575.5" y="10.7" width="14.8" height="6.2" fill="#030305" rx="3.1"/>
<rect x="563" y="12.5" width="4.5" height="1.6" fill="#dfe4f0" rx="0.6"/>
<rect x="597" y="12.5" width="6" height="1.8" fill="#dfe4f0" rx="0.6"/>
<rect x="560.7" y="19.4" width="36" height="11" fill="#050918" rx="2.2"/>
<rect x="566" y="24.2" width="10" height="1.6" fill="#aab2c8" rx="0.5"/>
<circle cx="601.4" cy="28.1" r="3.1" fill="#050918"/>
<circle cx="601.4" cy="28.1" r="1" fill="#dfe4f0"/>
<path d="M571.5 41.6a2.6 2.6 0 0 1 1.2 -5a3.3 3.3 0 0 1 6.2 0.9a2.1 2.1 0 0 1 -0.4 4.1z" fill="none" stroke="#8ea8e8" stroke-width="0.8"/>
<path d="M573 43.2l-0.8 1.8M575.4 43.2l-0.8 1.8M577.8 43.2l-0.8 1.8" stroke="#8ea8e8" stroke-width="0.7" fill="none"/>
<text x="582.6" y="45.6" font-size="9.6" fill="#fff" textLength="11.4" lengthAdjust="spacingAndGlyphs">2.5°</text>
<rect x="570" y="51.8" width="7.4" height="4.6" fill="#0c2158" rx="1"/>
<rect x="579.5" y="51.8" width="7.4" height="4.6" fill="#0c2158" rx="1"/>
<rect x="561.3" y="63.8" width="8.8" height="20.2" fill="#14161d" rx="1.4"/>
<circle cx="565.7" cy="73.5" r="1.7" fill="#18407c"/>
<rect x="563" y="66.5" width="4.5" height="1.3" fill="#5e6474"/>
<rect x="563.4" y="79.6" width="3.6" height="1.3" fill="#5e6474"/>
<rect x="571.9" y="63.8" width="8.8" height="20.2" fill="#14161d" rx="1.4"/>
<circle cx="576.3" cy="73.5" r="1.7" fill="#18407c"/>
<rect x="573.6" y="66.5" width="4.5" height="1.3" fill="#5e6474"/>
<rect x="574" y="79.6" width="3.6" height="1.3" fill="#5e6474"/>
<rect x="582.5" y="63.8" width="8.8" height="20.2" fill="#14161d" rx="1.4"/>
<circle cx="586.9" cy="73.5" r="1.7" fill="#18407c"/>
<rect x="584.2" y="66.5" width="4.5" height="1.3" fill="#5e6474"/>
<rect x="584.6" y="79.6" width="3.6" height="1.3" fill="#5e6474"/>
<rect x="561.3" y="89.6" width="40" height="8.4" fill="#12141a" rx="1.4"/>
<rect x="563.5" y="93.1" width="12" height="1.4" fill="#5e6474"/>
<circle cx="598" cy="93.8" r="1.8" fill="#163a70"/>
<rect x="561.3" y="100.7" width="40" height="9.3" fill="#12141a" rx="1.4"/>
<rect x="563.5" y="104.65" width="12" height="1.4" fill="#5e6474"/>
<circle cx="598" cy="105.35" r="1.8" fill="#163a70"/>
<rect x="561.3" y="112" width="40" height="9" fill="#12141a" rx="1.4"/>
<rect x="563.5" y="115.8" width="12" height="1.4" fill="#5e6474"/>
<circle cx="598" cy="116.5" r="1.8" fill="#163a70"/>
<rect x="613.2" y="20.8" width="55.2" height="120" rx="8.5" fill="url(#fr2)"/>
<clipPath id="p2c"><rect x="616.6" y="23.8" width="44.6" height="112" rx="6.3"/></clipPath>
<g clip-path="url(#p2c)">
<rect x="616" y="23" width="46" height="100" fill="#434642"/>
<path d="M617 50q8 -4 14 2q6 8 14 4q8 -2 16 4v14q-10 -8 -20 -2q-12 6 -24 -4z" fill="#5b5e59"/>
<path d="M641 66q6 -3 10 1q5 3 7 9q1 8 -3 13q-3 6 -8 9q-5 1 -6 -5q-3 -7 0 -14q-2 -7 0 -13z" fill="#9d9274"/>
<path d="M640 96q8 -4 14 0q6 6 2 14q-6 8 -16 10z" fill="#2d2f2c"/>
<path d="M636 104q6 4 12 16h-14z" fill="#6a6c66"/>
<path d="M648 28q6 2 12 0v8q-6 3 -12 0z" fill="#777a74"/>
<path d="M638 60q6 10 4 22q6 10 12 22" fill="none" stroke="#4b78b0" stroke-width="0.7" stroke-opacity="0.8"/>
<g fill="#c9e04a"><rect x="629.5" y="25.5" width="2.4" height="3.4"/><rect x="657.5" y="61" width="1.8" height="2.4"/><rect x="659" y="87.5" width="1.5" height="2"/><rect x="645" y="102" width="1.5" height="2"/><rect x="654.5" y="42.5" width="1.6" height="1.6"/></g>
<g fill="#8c8e88"><rect x="651" y="49" width="6" height="2"/><rect x="640" y="62" width="6" height="1.8"/><rect x="650" y="74" width="4.5" height="1.8"/><rect x="646" y="88.5" width="5" height="1.8"/><rect x="656" y="91" width="4" height="1.8"/><rect x="642" y="104.5" width="5.5" height="1.8"/><rect x="640" y="112" width="5" height="1.8"/></g>
<rect x="654.4" y="104" width="5" height="14.5" fill="#d8d8d4" rx="0.8"/>
<rect x="617.2" y="36.3" width="34" height="10.2" fill="#d4d4d2" rx="1.6"/>
<rect x="624" y="40.6" width="9" height="1.6" fill="#777" rx="0.5"/>
<circle cx="656" cy="38.9" r="3.6" fill="#f2f2f2"/>
<circle cx="656" cy="38.9" r="1.6" fill="#333"/>
<rect x="631" y="26.8" width="14" height="5.6" fill="#040404" rx="2.8"/>
</g>
<rect x="584.6" y="48" width="55.8" height="100" rx="8.5" fill="url(#fr2)"/>
<clipPath id="p3c"><rect x="587.2" y="50.8" width="45.4" height="100" rx="6.3"/></clipPath>
<g clip-path="url(#p3c)">
<rect x="587" y="50" width="46" height="72" fill="#fdfdfd"/>
<rect x="602.3" y="52.7" width="14" height="5.6" fill="#050505" rx="2.8"/>
<rect x="591.5" y="55" width="5" height="1.5" fill="#333"/>
<rect x="621.5" y="54.8" width="6.5" height="1.8" fill="#333" rx="0.6"/>
<rect x="588.4" y="62" width="35.2" height="6.8" fill="#242424" rx="1.4"/>
<rect x="593.5" y="64.7" width="9" height="1.5" fill="#cfcfcf" rx="0.5"/>
<circle cx="628.2" cy="63.8" r="3.1" fill="#242424"/>
<circle cx="628.2" cy="63.8" r="1.1" fill="#ddd"/>
<rect x="589.5" y="75.6" width="8" height="1.3" fill="#5a7fd0"/>
<rect x="620" y="74.2" width="9" height="1.1" fill="#5a7fd0"/>
<g stroke="#d6d6d6" stroke-width="0.35">
<line x1="590" y1="80.5" x2="631" y2="80.5"/>
<line x1="590" y1="83.5" x2="631" y2="83.5"/>
<line x1="590" y1="86.5" x2="631" y2="86.5"/>
<line x1="590" y1="89.5" x2="631" y2="89.5"/>
<line x1="590" y1="92.5" x2="631" y2="92.5"/>
<line x1="590" y1="95.5" x2="631" y2="95.5"/>
<line x1="590" y1="98.5" x2="631" y2="98.5"/>
<line x1="590" y1="101.5" x2="631" y2="101.5"/>
<line x1="590" y1="104.5" x2="631" y2="104.5"/>
<line x1="590" y1="107.5" x2="631" y2="107.5"/>
<line x1="590" y1="110.5" x2="631" y2="110.5"/>
<line x1="590" y1="113.5" x2="631" y2="113.5"/>
<line x1="590" y1="116.5" x2="631" y2="116.5"/>
<line x1="590" y1="119.5" x2="631" y2="119.5"/>
<line x1="591" y1="80" x2="591" y2="120"/>
<line x1="594.3" y1="80" x2="594.3" y2="120"/>
<line x1="597.6" y1="80" x2="597.6" y2="120"/>
<line x1="600.9" y1="80" x2="600.9" y2="120"/>
<line x1="604.2" y1="80" x2="604.2" y2="120"/>
<line x1="607.5" y1="80" x2="607.5" y2="120"/>
<line x1="610.8" y1="80" x2="610.8" y2="120"/>
<line x1="614.1" y1="80" x2="614.1" y2="120"/>
<line x1="617.4" y1="80" x2="617.4" y2="120"/>
<line x1="620.7" y1="80" x2="620.7" y2="120"/>
<line x1="624" y1="80" x2="624" y2="120"/>
<line x1="627.3" y1="80" x2="627.3" y2="120"/>
<line x1="630.6" y1="80" x2="630.6" y2="120"/>
</g>
<rect x="597.5" y="80" width="7.5" height="40" fill="#000" fill-opacity="0.06"/>
<rect x="617.5" y="80" width="7.5" height="40" fill="#000" fill-opacity="0.06"/>
<polygon points="590.2,93.6 590.2,90.2 594,88.8 599,89.8 604,89 609,86.6 614,87.2 620,86 626,86.4 631,85.4 631,93.6" fill="#7cc6e6" stroke="none" stroke-width="1"/>
<polyline points="590.2,89.4 594,87.4 599,88.3 604,87.3 609,85.3 614,85.6 620,84.4 626,84.9 631,84" fill="none" stroke="#cf3030" stroke-width="0.8"/>
<polyline points="590.2,91.2 594,89.6 599,90.6 604,89.6 609,87.3 614,87.8 620,86.6 626,87 631,86.2" fill="none" stroke="#2444c0" stroke-width="0.8"/>
<polyline points="591,97 593,100 595.5,103.8 599,100.5 603,98 607,101.5 610,103.6 614,100.3 619,98.2 624,98.6 629,100.8 631,101.3" fill="none" stroke="#e07a5a" stroke-width="0.7"/>
<rect x="614.6" y="104.5" width="1.2" height="2.2" fill="#4fb04f"/>
<rect x="615.8" y="110.5" width="2.2" height="8.5" fill="#6cc46c" fill-opacity="0.85"/>
<rect x="613.6" y="113.5" width="1.4" height="5" fill="#6cc46c" fill-opacity="0.7"/>
</g>
<text x="292.5" y="40.2" font-size="19.5" fill="#fff" textLength="156.5" lengthAdjust="spacingAndGlyphs">Oficjalna aplikacja</text>
<text x="292.5" y="68.5" font-size="19.5" fill="#fff" textLength="209" lengthAdjust="spacingAndGlyphs"><tspan font-weight="bold">Meteo ICM</tspan> do pobrania</text>
<text x="292.5" y="96.2" font-size="19.5" fill="#fff" textLength="224.5" lengthAdjust="spacingAndGlyphs">w Google Play i App Store</text>
<path d="M698.2 91.5c-1 5 0.5 9.5 3.5 10.2c3 0.6 7 -2 9.8 -5.6c-2.6 2.6 -5.6 4 -7.6 3.4c-2.4 -0.8 -3.6 -4 -5.7 -8z" fill="#fff"/>
<path d="M703.2 82c2 -3.6 5.6 -6 8.8 -5.6c2.6 0.4 4 3 4 6.6c-0.6 -2.8 -2 -4.6 -4.2 -4.9c-2.8 -0.4 -6 1.4 -8.6 3.9z" fill="#fff"/>
<text x="709" y="95.5" font-size="17.5" fill="#fff" textLength="75" lengthAdjust="spacingAndGlyphs" font-weight="bold" stroke="#fff" stroke-width="0.4">icmmeteo</text>
<rect x="787.2" y="80.8" width="20.8" height="20.8" rx="1.8" fill="#fff"/>
<text x="789.6" y="95.6" font-size="14" fill="#1a58ac" textLength="11.4" lengthAdjust="spacingAndGlyphs" font-weight="bold">M</text>
<text x="801.2" y="91.6" font-size="11" fill="#1a58ac" font-weight="bold">°</text>
</g>
</g>
<clipPath id="mclip"><rect x="280" y="120" width="540" height="540"/></clipPath>
<g id="meteogram" clip-path="url(#mclip)">
<rect x="280" y="120" width="540" height="540" fill="#fdfdfb"/>
<rect x="418.2" y="149" width="66.8" height="511" fill="#e6e6e6"/>
<rect x="587" y="149" width="66.8" height="511" fill="#e6e6e6"/>
<rect x="757.6" y="149" width="1.4" height="511" fill="#e6e6e6"/>
<text x="278.6" y="133" font-size="13" fill="#00008b" stroke="#00008b" stroke-width="0.14" textLength="154" lengthAdjust="spacingAndGlyphs">wschód słońca: 05:15 CEST</text>
<text x="279.4" y="146.2" font-size="13" fill="#00008b" stroke="#00008b" stroke-width="0.14" textLength="151.5" lengthAdjust="spacingAndGlyphs">zachód słońca: 19:45 CEST</text>
<text x="550" y="133" font-size="13" fill="#00008b" stroke="#00008b" stroke-width="0.14" text-anchor="middle" textLength="127" lengthAdjust="spacingAndGlyphs">21°43'31"E, 53°59'46"N</text>
<text x="550" y="146.2" font-size="13" fill="#00008b" stroke="#00008b" stroke-width="0.14" text-anchor="middle" textLength="82" lengthAdjust="spacingAndGlyphs">(x=261,  y=355)</text>
<text x="738" y="133" font-size="13" fill="#00008b" stroke="#00008b" stroke-width="0.14" text-anchor="middle" textLength="158" lengthAdjust="spacingAndGlyphs">wysokość (min, środek, max)</text>
<text x="738" y="146.2" font-size="13" fill="#00008b" stroke="#00008b" stroke-width="0.14" text-anchor="middle" textLength="96" lengthAdjust="spacingAndGlyphs">121 - 141 - 157 m</text>
<text x="377.5" y="162" font-size="13" fill="#000" stroke="#000" stroke-width="0.14" text-anchor="middle" textLength="59" lengthAdjust="spacingAndGlyphs">wto, 21.04</text>
<text x="546" y="162" font-size="13" fill="#000" stroke="#000" stroke-width="0.14" text-anchor="middle" textLength="57" lengthAdjust="spacingAndGlyphs">śro, 22.04</text>
<text x="715" y="162" font-size="13" fill="#000" stroke="#000" stroke-width="0.14" text-anchor="middle" textLength="61" lengthAdjust="spacingAndGlyphs">czw, 23.04</text>
<text x="319.5" y="175" font-size="13" fill="#000" stroke="#000" stroke-width="0.14" text-anchor="middle" textLength="33.5" lengthAdjust="spacingAndGlyphs">CEST</text>
<text x="781" y="175" font-size="13" fill="#000" stroke="#000" stroke-width="0.14" text-anchor="middle" textLength="33.5" lengthAdjust="spacingAndGlyphs">CEST</text>
<text x="356.52" y="175" font-size="13" fill="#000" stroke="#000" stroke-width="0.14" text-anchor="middle">11</text>
<text x="398.72" y="175" font-size="13" fill="#000" stroke="#000" stroke-width="0.14" text-anchor="middle">17</text>
<text x="440.92" y="175" font-size="13" fill="#000" stroke="#000" stroke-width="0.14" text-anchor="middle">23</text>
<text x="483.12" y="175" font-size="13" fill="#000" stroke="#000" stroke-width="0.14" text-anchor="middle">05</text>
<text x="525.32" y="175" font-size="13" fill="#000" stroke="#000" stroke-width="0.14" text-anchor="middle">11</text>
<text x="567.52" y="175" font-size="13" fill="#000" stroke="#000" stroke-width="0.14" text-anchor="middle">17</text>
<text x="609.72" y="175" font-size="13" fill="#000" stroke="#000" stroke-width="0.14" text-anchor="middle">23</text>
<text x="651.92" y="175" font-size="13" fill="#000" stroke="#000" stroke-width="0.14" text-anchor="middle">05</text>
<text x="694.12" y="175" font-size="13" fill="#000" stroke="#000" stroke-width="0.14" text-anchor="middle">11</text>
<text x="736.31" y="175" font-size="13" fill="#000" stroke="#000" stroke-width="0.14" text-anchor="middle">17</text>
<rect x="342.5" y="177" width="415" height="78.5" fill="#fff"/>
<rect x="418.2" y="177" width="66.8" height="78.5" fill="#e6e6e6"/>
<rect x="587" y="177" width="66.8" height="78.5" fill="#e6e6e6"/>
<rect x="342.5" y="239" width="415" height="16.5" fill="#87cefa"/>
<rect x="418.2" y="239" width="66.8" height="16.5" fill="#7cbeec"/>
<rect x="587" y="239" width="66.8" height="16.5" fill="#7cbeec"/>
<polygon points="342.45,225.3 349.48,221.1 356.52,217.7 363.55,215.4 370.58,212 377.62,208.8 384.65,206.9 391.68,206.4 398.72,206.9 405.75,209.5 412.78,213.7 419.82,219 426.85,223.3 433.88,226.5 440.92,229.1 447.95,230.8 454.98,233.4 462.02,236.4 469.05,239.3 476.08,242.4 483.12,243.8 490.15,243.6 497.18,239.9 504.22,232.2 511.25,226.2 518.28,217.7 525.32,209.5 532.35,204.3 539.38,201.4 546.42,200.2 553.45,200.1 560.48,200.9 567.52,203.1 574.55,207.9 581.58,214.2 588.62,219.4 595.65,223.3 602.68,226.2 609.72,227.9 616.75,229.3 623.78,231.3 630.82,229.6 637.85,228.8 644.88,228.2 651.92,231.7 658.95,233.9 665.98,233.5 673.02,228.2 680.05,224 687.08,221.1 694.12,218.5 701.15,216.8 708.18,216 715.21,216 722.25,216.8 729.28,218.5 736.31,221.9 743.35,226.2 750.38,230.8 757.41,235 757.41,241.6 750.38,237.4 743.35,232.8 736.31,228.5 729.28,225.1 722.25,223.4 715.21,222.6 708.18,222.6 701.15,223.4 694.12,225.1 687.08,227.7 680.05,230.6 673.02,234.8 665.98,240.1 658.95,240.5 651.92,238.3 644.88,234.8 637.85,235.4 630.82,236.2 623.78,237.9 616.75,235.9 609.72,234.5 602.68,232.8 595.65,229.9 588.62,226 581.58,220.8 574.55,214.5 567.52,209.7 560.48,207.5 553.45,206.7 546.42,206.8 539.38,208 532.35,210.9 525.32,216.1 518.28,224.3 511.25,232.8 504.22,238.8 497.18,247.4 490.15,252.1 483.12,252.6 476.08,251.2 469.05,248.3 462.02,246.1 454.98,243.1 447.95,239.6 440.92,237 433.88,234.1 426.85,230.6 419.82,226 412.78,220.3 405.75,216.1 398.72,213.5 391.68,213 384.65,213.5 377.62,215.4 370.58,218.6 363.55,222 356.52,224.3 349.48,227.7 342.45,231.9" fill="#bfe4ff" stroke="none" stroke-width="1" fill-opacity="1"/>
<polygon points="342.45,215.2 349.48,211.2 356.52,207.8 363.55,206.1 370.58,203.5 377.62,201 384.65,199.6 391.68,199.3 398.72,200.1 405.75,202.7 412.78,206.2 419.82,205.3 426.85,206.1 433.88,211.8 440.92,217 447.95,220.8 454.98,223.2 462.02,224.9 469.05,226.6 476.08,228 483.12,229.2 490.15,229.1 497.18,226.4 504.22,220.3 511.25,215.5 518.28,207.8 525.32,201.3 532.35,196.7 539.38,193.8 546.42,192.4 553.45,192.1 560.48,193 567.52,195 574.55,199.3 581.58,204 588.62,207.3 595.65,210.2 602.68,213.8 609.72,216.1 616.75,217.7 623.78,218.5 630.82,216.3 637.85,215.4 644.88,215.6 651.92,217.3 658.95,218.9 665.98,217.7 673.02,214.6 680.05,211.6 687.08,209 694.12,207 701.15,205.6 708.18,204.7 715.21,204.6 722.25,205.3 729.28,207 736.31,209.5 743.35,212.4 750.38,215.8 757.41,219.4 757.41,224.3 750.38,220.7 743.35,217.3 736.31,214.4 729.28,211.9 722.25,210.2 715.21,209.5 708.18,209.6 701.15,210.5 694.12,211.9 687.08,213.9 680.05,216.5 673.02,219.5 665.98,222.6 658.95,223.8 651.92,222.6 644.88,220.9 637.85,220.7 630.82,221.6 623.78,223.8 616.75,223 609.72,221.6 602.68,220.1 595.65,217.5 588.62,214.1 581.58,209.3 574.55,204.2 567.52,199.9 560.48,197.9 553.45,197 546.42,197.3 539.38,198.7 532.35,201.6 525.32,206.2 518.28,212.7 511.25,220.4 504.22,225.2 497.18,231.5 490.15,235.4 483.12,235.8 476.08,234.6 469.05,233.2 462.02,231.5 454.98,229.8 447.95,228.1 440.92,226 433.88,223.5 426.85,220.4 419.82,216.6 412.78,211.5 405.75,207.6 398.72,205 391.68,204.2 384.65,204.5 377.62,205.9 370.58,208.4 363.55,211 356.52,212.7 349.48,216.1 342.45,220.1" fill="#ffdcdc" stroke="none" stroke-width="1" fill-opacity="1"/>
<g class="crisp" stroke="#000" stroke-width="1" stroke-dasharray="2 2" fill="none">
<line x1="356.5" y1="177" x2="356.5" y2="255.5"/>
<line x1="377.5" y1="177" x2="377.5" y2="255.5"/>
<line x1="398.5" y1="177" x2="398.5" y2="255.5"/>
<line x1="419.5" y1="177" x2="419.5" y2="255.5"/>
<line x1="440.5" y1="177" x2="440.5" y2="255.5"/>
<line x1="462.5" y1="177" x2="462.5" y2="255.5"/>
<line x1="483.5" y1="177" x2="483.5" y2="255.5"/>
<line x1="504.5" y1="177" x2="504.5" y2="255.5"/>
<line x1="525.5" y1="177" x2="525.5" y2="255.5"/>
<line x1="546.5" y1="177" x2="546.5" y2="255.5"/>
<line x1="567.5" y1="177" x2="567.5" y2="255.5"/>
<line x1="588.5" y1="177" x2="588.5" y2="255.5"/>
<line x1="609.5" y1="177" x2="609.5" y2="255.5"/>
<line x1="630.5" y1="177" x2="630.5" y2="255.5"/>
<line x1="651.5" y1="177" x2="651.5" y2="255.5"/>
<line x1="673.5" y1="177" x2="673.5" y2="255.5"/>
<line x1="694.5" y1="177" x2="694.5" y2="255.5"/>
<line x1="715.5" y1="177" x2="715.5" y2="255.5"/>
<line x1="736.5" y1="177" x2="736.5" y2="255.5"/>
<line x1="342.5" y1="186.5" x2="757.5" y2="186.5"/>
<line x1="342.5" y1="204.5" x2="757.5" y2="204.5"/>
<line x1="342.5" y1="222.5" x2="757.5" y2="222.5"/>
<line x1="342.5" y1="239.5" x2="757.5" y2="239.5"/>
</g>
<rect class="crisp" x="342.5" y="177.5" width="415" height="78" fill="none" stroke="#000" stroke-width="1"/>
<line class="crisp" x1="342" y1="176.5" x2="758" y2="176.5" stroke="#777" stroke-width="1"/>
<g stroke="#a81c1c" stroke-width="1" fill="none" class="crisp">
<line x1="349.5" y1="197" x2="349.5" y2="207"/>
<line x1="356.5" y1="192" x2="356.5" y2="204"/>
<line x1="363.5" y1="190" x2="363.5" y2="204"/>
<line x1="370.5" y1="188" x2="370.5" y2="204"/>
<line x1="377.5" y1="187" x2="377.5" y2="203"/>
<line x1="384.5" y1="187" x2="384.5" y2="201"/>
<line x1="391.5" y1="188" x2="391.5" y2="201"/>
<line x1="398.5" y1="191" x2="398.5" y2="204"/>
<line x1="405.5" y1="194" x2="405.5" y2="210"/>
<line x1="412.5" y1="199" x2="412.5" y2="216"/>
<line x1="419.5" y1="204" x2="419.5" y2="222"/>
<line x1="426.5" y1="204" x2="426.5" y2="223"/>
<line x1="433.5" y1="204" x2="433.5" y2="228"/>
<line x1="440.5" y1="205" x2="440.5" y2="231"/>
<line x1="447.5" y1="206" x2="447.5" y2="231"/>
<line x1="454.5" y1="207" x2="454.5" y2="232"/>
<line x1="462.5" y1="208" x2="462.5" y2="234"/>
<line x1="469.5" y1="208" x2="469.5" y2="235"/>
<line x1="476.5" y1="209" x2="476.5" y2="234"/>
<line x1="483.5" y1="210" x2="483.5" y2="235"/>
<line x1="490.5" y1="210" x2="490.5" y2="236"/>
<line x1="497.5" y1="210" x2="497.5" y2="229"/>
<line x1="504.5" y1="210" x2="504.5" y2="222"/>
<line x1="511.5" y1="206" x2="511.5" y2="212"/>
<line x1="518.5" y1="196" x2="518.5" y2="205"/>
<line x1="525.5" y1="187" x2="525.5" y2="204"/>
<line x1="532.5" y1="183" x2="532.5" y2="200"/>
<line x1="539.5" y1="181" x2="539.5" y2="200"/>
<line x1="546.5" y1="180" x2="546.5" y2="196"/>
<line x1="553.5" y1="184" x2="553.5" y2="198"/>
<line x1="560.5" y1="187" x2="560.5" y2="198"/>
<line x1="567.5" y1="192" x2="567.5" y2="201"/>
<line x1="574.5" y1="194" x2="574.5" y2="207"/>
<line x1="581.5" y1="198" x2="581.5" y2="213"/>
<line x1="588.5" y1="201" x2="588.5" y2="219"/>
<line x1="595.5" y1="201" x2="595.5" y2="219"/>
<line x1="602.5" y1="202" x2="602.5" y2="221"/>
<line x1="609.5" y1="204" x2="609.5" y2="222"/>
<line x1="616.5" y1="204" x2="616.5" y2="225"/>
<line x1="623.5" y1="204" x2="623.5" y2="226"/>
<line x1="630.5" y1="205" x2="630.5" y2="222"/>
<line x1="637.5" y1="205" x2="637.5" y2="222"/>
<line x1="644.5" y1="205" x2="644.5" y2="223"/>
<line x1="651.5" y1="206" x2="651.5" y2="223"/>
<line x1="658.5" y1="207" x2="658.5" y2="224"/>
<line x1="665.5" y1="207" x2="665.5" y2="221"/>
<line x1="673.5" y1="206" x2="673.5" y2="216"/>
<line x1="680.5" y1="203" x2="680.5" y2="210"/>
<line x1="687.5" y1="198" x2="687.5" y2="206"/>
<line x1="694.5" y1="193" x2="694.5" y2="204"/>
<line x1="701.5" y1="190" x2="701.5" y2="203"/>
<line x1="708.5" y1="189" x2="708.5" y2="201"/>
<line x1="715.5" y1="191" x2="715.5" y2="206"/>
<line x1="722.5" y1="191" x2="722.5" y2="201"/>
<line x1="729.5" y1="194" x2="729.5" y2="205"/>
<line x1="736.5" y1="198" x2="736.5" y2="212"/>
<line x1="743.5" y1="200" x2="743.5" y2="215"/>
<line x1="750.5" y1="202" x2="750.5" y2="218"/>
</g>
<clipPath id="mc1"><rect x="343" y="177" width="414.5" height="78.5"/></clipPath>
<g fill="#7b52d6" clip-path="url(#mc1)">
<circle cx="342.45" cy="246.8" r="1.75"/>
<circle cx="349.48" cy="245.4" r="1.75"/>
<circle cx="356.52" cy="250.2" r="1.75"/>
<circle cx="363.55" cy="251.2" r="1.75"/>
<circle cx="370.58" cy="251.6" r="1.75"/>
<circle cx="377.62" cy="250.5" r="1.75"/>
<circle cx="384.65" cy="248.8" r="1.75"/>
<circle cx="391.68" cy="247.6" r="1.75"/>
<circle cx="398.72" cy="246.1" r="1.75"/>
<circle cx="405.75" cy="244.7" r="1.75"/>
<circle cx="412.78" cy="239.3" r="1.75"/>
<circle cx="419.82" cy="234.5" r="1.75"/>
<circle cx="426.85" cy="229.5" r="1.75"/>
<circle cx="433.88" cy="227.5" r="1.75"/>
<circle cx="440.92" cy="229.2" r="1.75"/>
<circle cx="447.95" cy="230.6" r="1.75"/>
<circle cx="454.98" cy="231.8" r="1.75"/>
<circle cx="462.02" cy="233" r="1.75"/>
<circle cx="469.05" cy="234.3" r="1.75"/>
<circle cx="476.08" cy="235.2" r="1.75"/>
<circle cx="483.12" cy="236.5" r="1.75"/>
<circle cx="490.15" cy="238.2" r="1.75"/>
<circle cx="497.18" cy="238.1" r="1.75"/>
<circle cx="504.22" cy="237.7" r="1.75"/>
<circle cx="511.25" cy="236.4" r="1.75"/>
<circle cx="518.28" cy="234.5" r="1.75"/>
<circle cx="525.32" cy="234.3" r="1.75"/>
<circle cx="532.35" cy="240" r="1.75"/>
<circle cx="539.38" cy="240.8" r="1.75"/>
<circle cx="546.42" cy="236.9" r="1.75"/>
<circle cx="553.45" cy="237.2" r="1.75"/>
<circle cx="560.48" cy="238.1" r="1.75"/>
<circle cx="567.52" cy="234.7" r="1.75"/>
<circle cx="574.55" cy="235.3" r="1.75"/>
<circle cx="581.58" cy="230.4" r="1.75"/>
<circle cx="588.62" cy="226.3" r="1.75"/>
<circle cx="595.65" cy="225.1" r="1.75"/>
<circle cx="602.68" cy="227" r="1.75"/>
<circle cx="609.72" cy="229.2" r="1.75"/>
<circle cx="616.75" cy="230" r="1.75"/>
<circle cx="623.78" cy="229.5" r="1.75"/>
<circle cx="630.82" cy="228.3" r="1.75"/>
<circle cx="637.85" cy="227" r="1.75"/>
<circle cx="644.88" cy="228" r="1.75"/>
<circle cx="651.92" cy="228.9" r="1.75"/>
<circle cx="658.95" cy="228.3" r="1.75"/>
<circle cx="665.98" cy="228" r="1.75"/>
<circle cx="673.02" cy="229.7" r="1.75"/>
<circle cx="680.05" cy="237.4" r="1.75"/>
<circle cx="687.08" cy="245.4" r="1.75"/>
<circle cx="694.12" cy="246.8" r="1.75"/>
<circle cx="701.15" cy="244.6" r="1.75"/>
<circle cx="708.18" cy="244.2" r="1.75"/>
<circle cx="715.21" cy="243.7" r="1.75"/>
<circle cx="722.25" cy="242.3" r="1.75"/>
<circle cx="729.28" cy="242.3" r="1.75"/>
<circle cx="736.31" cy="242.5" r="1.75"/>
<circle cx="743.35" cy="243.4" r="1.75"/>
<circle cx="750.38" cy="244.6" r="1.75"/>
<circle cx="757.41" cy="249.4" r="1.75"/>
</g>
<polyline points="342.45,228.3 349.48,224.1 356.52,220.7 363.55,218.4 370.58,215 377.62,211.8 384.65,209.9 391.68,209.4 398.72,209.9 405.75,212.5 412.78,216.7 419.82,222 426.85,226.3 433.88,229.5 440.92,232.1 447.95,233.8 454.98,236.4 462.02,239.4 469.05,242.3 476.08,245.4 483.12,246.8 490.15,246.6 497.18,242.9 504.22,235.2 511.25,229.2 518.28,220.7 525.32,212.5 532.35,207.3 539.38,204.4 546.42,203.2 553.45,203.1 560.48,203.9 567.52,206.1 574.55,210.9 581.58,217.2 588.62,222.4 595.65,226.3 602.68,229.2 609.72,230.9 616.75,232.3 623.78,234.3 630.82,232.6 637.85,231.8 644.88,231.2 651.92,234.7 658.95,236.9 665.98,236.5 673.02,231.2 680.05,227 687.08,224.1 694.12,221.5 701.15,219.8 708.18,219 715.21,219 722.25,219.8 729.28,221.5 736.31,224.9 743.35,229.2 750.38,233.8 757.41,238" fill="none" stroke="#0000ee" stroke-width="2.2" stroke-linejoin="round"/>
<polyline points="342.45,217.8 349.48,213.8 356.52,210.4 363.55,208.7 370.58,206.1 377.62,203.6 384.65,202.2 391.68,201.9 398.72,202.7 405.75,205.3 412.78,209.2 419.82,214.3 426.85,218.1 433.88,221.2 440.92,223.7 447.95,225.8 454.98,227.5 462.02,229.2 469.05,230.9 476.08,232.3 483.12,233.5 490.15,233.1 497.18,229.2 504.22,222.9 511.25,218.1 518.28,210.4 525.32,203.9 532.35,199.3 539.38,196.4 546.42,195 553.45,194.7 560.48,195.6 567.52,197.6 574.55,201.9 581.58,207 588.62,211.8 595.65,215.2 602.68,217.8 609.72,219.3 616.75,220.7 623.78,221.5 630.82,219.3 637.85,218.4 644.88,218.6 651.92,220.3 658.95,221.5 665.98,220.3 673.02,217.2 680.05,214.2 687.08,211.6 694.12,209.6 701.15,208.2 708.18,207.3 715.21,207.2 722.25,207.9 729.28,209.6 736.31,212.1 743.35,215 750.38,218.4 757.41,222" fill="none" stroke="#ff0000" stroke-width="2.2" stroke-linejoin="round"/>
<rect class="crisp" x="342.5" y="177.5" width="415" height="78" fill="none" stroke="#000" stroke-width="1"/>
<text x="337.6" y="190.15" font-size="11.2" fill="#000" stroke="#000" stroke-width="0.14" text-anchor="end">15</text>
<text x="337.6" y="208.15" font-size="11.2" fill="#000" stroke="#000" stroke-width="0.14" text-anchor="end">10</text>
<text x="337.6" y="226.25" font-size="11.2" fill="#000" stroke="#000" stroke-width="0.14" text-anchor="end">5</text>
<text x="337.6" y="244.15" font-size="11.2" fill="#000" stroke="#000" stroke-width="0.14" text-anchor="end">0</text>
<text x="767.7" y="190.15" font-size="11.2" fill="#000" stroke="#000" stroke-width="0.14" text-anchor="middle">15</text>
<text x="767.7" y="208.25" font-size="11.2" fill="#000" stroke="#000" stroke-width="0.14" text-anchor="middle">10</text>
<text x="767.7" y="226.05" font-size="11.2" fill="#000" stroke="#000" stroke-width="0.14" text-anchor="middle">5</text>
<text x="767.7" y="244.05" font-size="11.2" fill="#000" stroke="#000" stroke-width="0.14" text-anchor="middle">0</text>
<text transform="translate(293.3 216.6) rotate(-90)" font-size="13" fill="#00008b" stroke="#00008b" stroke-width="0.14" text-anchor="middle" textLength="65.6" lengthAdjust="spacingAndGlyphs">temperatura</text>
<text transform="translate(306 216.8) rotate(-90)" font-size="13" fill="#00008b" stroke="#00008b" stroke-width="0.14" text-anchor="middle" textLength="20.6" lengthAdjust="spacingAndGlyphs">(°C)</text>
<text transform="translate(802 216.8) rotate(-90)" font-size="13" fill="#00008b" stroke="#00008b" stroke-width="0.14" text-anchor="middle" textLength="20.6" lengthAdjust="spacingAndGlyphs">(°C)</text>
<text transform="translate(815 216.6) rotate(-90)" font-size="13" fill="#00008b" stroke="#00008b" stroke-width="0.14" text-anchor="middle" textLength="65.6" lengthAdjust="spacingAndGlyphs">temperatura</text>
<rect x="342.5" y="264" width="415" height="77.5" fill="#fff"/>
<rect x="418.2" y="264" width="66.8" height="77.5" fill="#e6e6e6"/>
<rect x="587" y="264" width="66.8" height="77.5" fill="#e6e6e6"/>
<g class="crisp" stroke="#000" stroke-width="1" stroke-dasharray="2 2" fill="none">
<line x1="356.5" y1="264" x2="356.5" y2="341.5"/>
<line x1="377.5" y1="264" x2="377.5" y2="341.5"/>
<line x1="398.5" y1="264" x2="398.5" y2="341.5"/>
<line x1="419.5" y1="264" x2="419.5" y2="341.5"/>
<line x1="440.5" y1="264" x2="440.5" y2="341.5"/>
<line x1="462.5" y1="264" x2="462.5" y2="341.5"/>
<line x1="483.5" y1="264" x2="483.5" y2="341.5"/>
<line x1="504.5" y1="264" x2="504.5" y2="341.5"/>
<line x1="525.5" y1="264" x2="525.5" y2="341.5"/>
<line x1="546.5" y1="264" x2="546.5" y2="341.5"/>
<line x1="567.5" y1="264" x2="567.5" y2="341.5"/>
<line x1="588.5" y1="264" x2="588.5" y2="341.5"/>
<line x1="609.5" y1="264" x2="609.5" y2="341.5"/>
<line x1="630.5" y1="264" x2="630.5" y2="341.5"/>
<line x1="651.5" y1="264" x2="651.5" y2="341.5"/>
<line x1="673.5" y1="264" x2="673.5" y2="341.5"/>
<line x1="694.5" y1="264" x2="694.5" y2="341.5"/>
<line x1="715.5" y1="264" x2="715.5" y2="341.5"/>
<line x1="736.5" y1="264" x2="736.5" y2="341.5"/>
<line x1="342.5" y1="265.5" x2="757.5" y2="265.5"/>
<line x1="342.5" y1="280.5" x2="757.5" y2="280.5"/>
<line x1="342.5" y1="296.5" x2="757.5" y2="296.5"/>
<line x1="342.5" y1="311.5" x2="757.5" y2="311.5"/>
<line x1="342.5" y1="326.5" x2="757.5" y2="326.5"/>
</g>
<rect class="crisp" x="342.5" y="264.5" width="415" height="77" fill="none" stroke="#000" stroke-width="1"/>
<line class="crisp" x1="342" y1="263.5" x2="758" y2="263.5" stroke="#777" stroke-width="1"/>
<line x1="342.5" y1="341.5" x2="757.5" y2="341.5" stroke="#0a0" stroke-width="1" class="crisp" stroke-dasharray="2 2"/>
<polyline points="342.45,311.8 349.48,316.4 356.52,322.5 363.55,325.3 370.58,327.1 377.62,328.2 384.65,328.4 391.68,327.7 398.72,325.3 405.75,320.7 412.78,306.7 419.82,296.4 426.85,288.2 433.88,279.8 440.92,276.4 447.95,274.4 454.98,273.4 462.02,271.6 469.05,269.8 476.08,269 483.12,269.8 490.15,272.9 497.18,278 504.22,287.4 511.25,292.6 518.28,299 525.32,309.2 532.35,320.7 539.38,325.2 546.42,322.9 553.45,322.9 560.48,323.7 567.52,318.4 574.55,313.5 581.58,300.4 588.62,288.9 595.65,282.7 602.68,281.6 609.72,281.9 616.75,280 623.78,278.1 630.82,279.5 637.85,278.9 644.88,280.5 651.92,278.9 658.95,276.5 665.98,277.6 673.02,287 680.05,305 687.08,317 694.12,318.9 701.15,319.4 708.18,319.7 715.21,318.6 722.25,317 729.28,316 736.31,313.5 743.35,311.1 750.38,309 757.41,308.2" fill="none" stroke="#e8501e" stroke-width="2" stroke-linejoin="round"/>
<text x="337.6" y="271.35" font-size="11.2" fill="#000" stroke="#000" stroke-width="0.14" text-anchor="end">5</text>
<text x="337.6" y="286.25" font-size="11.2" fill="#000" stroke="#000" stroke-width="0.14" text-anchor="end">4</text>
<text x="337.6" y="301.15" font-size="11.2" fill="#000" stroke="#000" stroke-width="0.14" text-anchor="end">3</text>
<text x="337.6" y="316.25" font-size="11.2" fill="#000" stroke="#000" stroke-width="0.14" text-anchor="end">2</text>
<text x="337.6" y="331.35" font-size="11.2" fill="#000" stroke="#000" stroke-width="0.14" text-anchor="end">1</text>
<text x="337.6" y="346.15" font-size="11.2" fill="#000" stroke="#000" stroke-width="0.14" text-anchor="end">0</text>
<text x="761.6" y="271.35" font-size="11.2" fill="#ff4500" stroke="#ff4500" stroke-width="0.14">96</text>
<text x="761.6" y="286.25" font-size="11.2" fill="#ff4500" stroke="#ff4500" stroke-width="0.14">83</text>
<text x="761.6" y="301.15" font-size="11.2" fill="#ff4500" stroke="#ff4500" stroke-width="0.14">69</text>
<text x="761.6" y="316.25" font-size="11.2" fill="#ff4500" stroke="#ff4500" stroke-width="0.14">56</text>
<text x="761.6" y="331.35" font-size="11.2" fill="#ff4500" stroke="#ff4500" stroke-width="0.14">43</text>
<text x="761.6" y="346.15" font-size="11.2" fill="#ff4500" stroke="#ff4500" stroke-width="0.14">30</text>
<text transform="translate(293.3 304.5) rotate(-90)" font-size="13" fill="#00008b" stroke="#00008b" stroke-width="0.14" text-anchor="middle" textLength="26.3" lengthAdjust="spacingAndGlyphs">opad</text>
<text transform="translate(306 305.3) rotate(-90)" font-size="13" fill="#00008b" stroke="#00008b" stroke-width="0.14" text-anchor="middle" textLength="85.4" lengthAdjust="spacingAndGlyphs">(mm/h, kg/m²/h)</text>
<text transform="translate(802 306.8) rotate(-90)" font-size="13" fill="#00008b" stroke="#00008b" stroke-width="0.14" text-anchor="middle" textLength="15.2" lengthAdjust="spacingAndGlyphs">(%)</text>
<text transform="translate(815 305) rotate(-90)" font-size="13" fill="#00008b" stroke="#00008b" stroke-width="0.14" text-anchor="middle" textLength="87.3" lengthAdjust="spacingAndGlyphs">wilgotność wzgl.</text>
<rect x="342.5" y="350" width="415" height="78.5" fill="#fff"/>
<rect x="418.2" y="350" width="66.8" height="78.5" fill="#e6e6e6"/>
<rect x="587" y="350" width="66.8" height="78.5" fill="#e6e6e6"/>
<g class="crisp">
<polygon points="342.45,359.9 349.78,360.15 349.78,428.5 342.45,428.5" fill="#ff8c00"/>
<polygon points="349.48,360.15 356.82,360.4 356.82,428.5 349.48,428.5" fill="#ff8c00"/>
<polygon points="356.52,360.4 363.85,360.02 363.85,428.5 356.52,428.5" fill="#ff8c00"/>
<polygon points="363.55,360.02 370.88,360.52 370.88,428.5 363.55,428.5" fill="#ff8c00"/>
<polygon points="370.58,360.52 377.92,361.4 377.92,428.5 370.58,428.5" fill="#ff8c00"/>
<polygon points="377.62,361.4 384.95,362.4 384.95,428.5 377.62,428.5" fill="#ff8c00"/>
<polygon points="384.65,362.4 391.98,363.4 391.98,428.5 384.65,428.5" fill="#ff8c00"/>
<polygon points="391.68,363.4 399.02,363.4 399.02,428.5 391.68,428.5" fill="#ff8c00"/>
<polygon points="398.72,363.4 406.05,363.4 406.05,428.5 398.72,428.5" fill="#ff8c00"/>
<polygon points="405.75,363.4 413.08,362.9 413.08,428.5 405.75,428.5" fill="#ff8c00"/>
<polygon points="412.78,362.9 420.12,362.4 420.12,428.5 412.78,428.5" fill="#ff8c00"/>
<polygon points="419.82,362.4 427.15,362 427.15,428.5 419.82,428.5" fill="#ff8c00"/>
<polygon points="426.85,362 434.18,361.6 434.18,428.5 426.85,428.5" fill="#ff8c00"/>
<polygon points="433.88,361.6 441.22,361.6 441.22,428.5 433.88,428.5" fill="#ff8c00"/>
<polygon points="440.92,361.6 448.25,361.6 448.25,428.5 440.92,428.5" fill="#ff8c00"/>
<polygon points="447.95,361.6 455.28,362 455.28,428.5 447.95,428.5" fill="#ff8c00"/>
<polygon points="454.98,362 462.32,362.4 462.32,428.5 454.98,428.5" fill="#ff8c00"/>
<polygon points="462.02,362.4 469.35,363.07 469.35,428.5 462.02,428.5" fill="#ff9400"/>
<polygon points="469.05,363.07 476.38,364.67 476.38,428.5 469.05,428.5" fill="#ffa800"/>
<polygon points="476.08,364.67 483.42,366.5 483.42,428.5 476.08,428.5" fill="#ffa800"/>
<polygon points="483.12,366.5 490.45,366.65 490.45,428.5 483.12,428.5" fill="#ffa800"/>
<polygon points="490.15,366.65 497.48,366.8 497.48,428.5 490.15,428.5" fill="#ffa800"/>
<polygon points="497.18,366.8 504.52,367.8 504.52,428.5 497.18,428.5" fill="#ffb400"/>
<polygon points="504.22,367.8 511.55,368.8 511.55,428.5 504.22,428.5" fill="#ffb400"/>
<polygon points="511.25,368.8 518.58,370.35 518.58,428.5 511.25,428.5" fill="#ffb400"/>
<polygon points="518.28,370.35 525.62,371.9 525.62,428.5 518.28,428.5" fill="#ffb400"/>
<polygon points="525.32,371.9 532.65,373.55 532.65,428.5 525.32,428.5" fill="#ffd700"/>
<polygon points="532.35,373.55 539.68,375.2 539.68,428.5 532.35,428.5" fill="#ffd700"/>
<polygon points="539.38,375.2 546.72,377.55 546.72,428.5 539.38,428.5" fill="#ffd700"/>
<polygon points="546.42,377.55 553.75,379.9 553.75,428.5 546.42,428.5" fill="#ffe400"/>
<polygon points="553.45,379.9 560.78,381.65 560.78,428.5 553.45,428.5" fill="#ffff00"/>
<polygon points="560.48,381.65 567.82,383.4 567.82,428.5 560.48,428.5" fill="#ffff00"/>
<polygon points="567.52,383.4 574.85,385.17 574.85,428.5 567.52,428.5" fill="#ffff00"/>
<polygon points="574.55,385.17 581.88,386.93 581.88,428.5 574.55,428.5" fill="#f8ff08"/>
<polygon points="581.58,386.93 588.92,388.7 588.92,428.5 581.58,428.5" fill="#f8ff08"/>
<polygon points="588.62,388.7 595.95,390.23 595.95,428.5 588.62,428.5" fill="#c4ff28"/>
<polygon points="595.65,390.23 602.98,391.77 602.98,428.5 595.65,428.5" fill="#c4ff28"/>
<polygon points="602.68,391.77 610.02,393.3 610.02,428.5 602.68,428.5" fill="#c4ff28"/>
<polygon points="609.72,393.3 617.05,395.7 617.05,428.5 609.72,428.5" fill="#c4ff28"/>
<polygon points="616.75,395.7 624.08,398.1 624.08,428.5 616.75,428.5" fill="#8cff10"/>
<polygon points="623.78,398.1 631.12,400.5 631.12,428.5 623.78,428.5" fill="#8cff10"/>
<polygon points="630.82,400.5 638.15,402.25 638.15,428.5 630.82,428.5" fill="#8cff10"/>
<polygon points="637.85,402.25 645.18,404 645.18,428.5 637.85,428.5" fill="#8cff10"/>
<polygon points="644.88,404 652.22,402.7 652.22,428.5 644.88,428.5" fill="#8cff10"/>
<polygon points="651.92,402.7 659.25,400.7 659.25,428.5 651.92,428.5" fill="#8cff10"/>
<polygon points="658.95,400.7 666.28,398.7 666.28,428.5 658.95,428.5" fill="#8cff10"/>
<polygon points="665.98,398.7 673.32,396.95 673.32,428.5 665.98,428.5" fill="#c8ff28"/>
<polygon points="673.02,396.95 680.35,395.2 680.35,428.5 673.02,428.5" fill="#c8ff28"/>
<polygon points="680.05,395.2 687.38,394.25 687.38,428.5 680.05,428.5" fill="#c8ff28"/>
<polygon points="687.08,394.25 694.41,393.3 694.41,428.5 687.08,428.5" fill="#c8ff28"/>
<polygon points="694.12,393.3 701.45,394.25 701.45,428.5 694.12,428.5" fill="#c4ff10"/>
<polygon points="701.15,394.25 708.48,395.2 708.48,428.5 701.15,428.5" fill="#c4ff10"/>
<polygon points="708.18,395.2 715.51,395.2 715.51,428.5 708.18,428.5" fill="#c4ff10"/>
<polygon points="715.21,395.2 722.55,394.65 722.55,428.5 715.21,428.5" fill="#c4ff10"/>
<polygon points="722.25,394.65 729.58,394.1 729.58,428.5 722.25,428.5" fill="#c4ff10"/>
<polygon points="729.28,394.1 736.61,393.7 736.61,428.5 729.28,428.5" fill="#c4ff10"/>
<polygon points="736.31,393.7 743.65,393.3 743.65,428.5 736.31,428.5" fill="#c4ff10"/>
<polygon points="743.35,393.3 750.68,392.9 750.68,428.5 743.35,428.5" fill="#c4ff10"/>
<polygon points="750.38,392.9 757.71,392.5 757.71,428.5 750.38,428.5" fill="#c4ff10"/>
</g>
<g class="crisp" stroke="#000" stroke-width="1" stroke-dasharray="2 2" fill="none">
<line x1="356.5" y1="350" x2="356.5" y2="428.5"/>
<line x1="377.5" y1="350" x2="377.5" y2="428.5"/>
<line x1="398.5" y1="350" x2="398.5" y2="428.5"/>
<line x1="419.5" y1="350" x2="419.5" y2="428.5"/>
<line x1="440.5" y1="350" x2="440.5" y2="428.5"/>
<line x1="462.5" y1="350" x2="462.5" y2="428.5"/>
<line x1="483.5" y1="350" x2="483.5" y2="428.5"/>
<line x1="504.5" y1="350" x2="504.5" y2="428.5"/>
<line x1="525.5" y1="350" x2="525.5" y2="428.5"/>
<line x1="546.5" y1="350" x2="546.5" y2="428.5"/>
<line x1="567.5" y1="350" x2="567.5" y2="428.5"/>
<line x1="588.5" y1="350" x2="588.5" y2="428.5"/>
<line x1="609.5" y1="350" x2="609.5" y2="428.5"/>
<line x1="630.5" y1="350" x2="630.5" y2="428.5"/>
<line x1="651.5" y1="350" x2="651.5" y2="428.5"/>
<line x1="673.5" y1="350" x2="673.5" y2="428.5"/>
<line x1="694.5" y1="350" x2="694.5" y2="428.5"/>
<line x1="715.5" y1="350" x2="715.5" y2="428.5"/>
<line x1="736.5" y1="350" x2="736.5" y2="428.5"/>
<line x1="342.5" y1="367.5" x2="757.5" y2="367.5"/>
<line x1="342.5" y1="388.5" x2="757.5" y2="388.5"/>
<line x1="342.5" y1="408.5" x2="757.5" y2="408.5"/>
</g>
<rect class="crisp" x="342.5" y="350.5" width="415" height="78" fill="none" stroke="#000" stroke-width="1"/>
<line class="crisp" x1="342" y1="349.5" x2="758" y2="349.5" stroke="#777" stroke-width="1"/>
<polyline points="342.45,359.9 349.48,360.15 356.52,360.4 363.55,360.02 370.58,360.52 377.62,361.4 384.65,362.4 391.68,363.4 398.72,363.4 405.75,363.4 412.78,362.9 419.82,362.4 426.85,362 433.88,361.6 440.92,361.6 447.95,361.6 454.98,362 462.02,362.4 469.05,363.07 476.08,364.67 483.12,366.5 490.15,366.65 497.18,366.8 504.22,367.8 511.25,368.8 518.28,370.35 525.32,371.9 532.35,373.55 539.38,375.2 546.42,377.55 553.45,379.9 560.48,381.65 567.52,383.4 574.55,385.17 581.58,386.93 588.62,388.7 595.65,390.23 602.68,391.77 609.72,393.3 616.75,395.7 623.78,398.1 630.82,400.5 637.85,402.25 644.88,404 651.92,402.7 658.95,400.7 665.98,398.7 673.02,396.95 680.05,395.2 687.08,394.25 694.12,393.3 701.15,394.25 708.18,395.2 715.21,395.2 722.25,394.65 729.28,394.1 736.31,393.7 743.35,393.3 750.38,392.9 757.41,392.5" fill="none" stroke="#000" stroke-width="2" stroke-linejoin="round"/>
<text x="337.6" y="371.35" font-size="11.2" fill="#000" stroke="#000" stroke-width="0.14" text-anchor="end">1020</text>
<text x="337.6" y="392.45" font-size="11.2" fill="#000" stroke="#000" stroke-width="0.14" text-anchor="end">1015</text>
<text x="337.6" y="412.65" font-size="11.2" fill="#000" stroke="#000" stroke-width="0.14" text-anchor="end">1010</text>
<text x="337.6" y="433.45" font-size="11.2" fill="#000" stroke="#000" stroke-width="0.14" text-anchor="end">1005</text>
<text x="761.6" y="371.35" font-size="11.2" fill="#000" stroke="#000" stroke-width="0.14">765</text>
<text x="761.6" y="392.45" font-size="11.2" fill="#000" stroke="#000" stroke-width="0.14">761</text>
<text x="761.6" y="412.65" font-size="11.2" fill="#000" stroke="#000" stroke-width="0.14">758</text>
<text x="761.6" y="433.45" font-size="11.2" fill="#000" stroke="#000" stroke-width="0.14">754</text>
<text transform="translate(293.3 392.7) rotate(-90)" font-size="13" fill="#00008b" stroke="#00008b" stroke-width="0.14" text-anchor="middle" textLength="48.5" lengthAdjust="spacingAndGlyphs">ciśnienie</text>
<text transform="translate(306 393.1) rotate(-90)" font-size="13" fill="#00008b" stroke="#00008b" stroke-width="0.14" text-anchor="middle" textLength="28.4" lengthAdjust="spacingAndGlyphs">(hPa)</text>
<text transform="translate(802 393.2) rotate(-90)" font-size="13" fill="#00008b" stroke="#00008b" stroke-width="0.14" text-anchor="middle" textLength="46" lengthAdjust="spacingAndGlyphs">(mm Hg)</text>
<text transform="translate(815 392.7) rotate(-90)" font-size="13" fill="#00008b" stroke="#00008b" stroke-width="0.14" text-anchor="middle" textLength="48.5" lengthAdjust="spacingAndGlyphs">ciśnienie</text>
<rect x="342.5" y="437" width="415" height="78.5" fill="#fff"/>
<rect x="418.2" y="437" width="66.8" height="78.5" fill="#e6e6e6"/>
<rect x="587" y="437" width="66.8" height="78.5" fill="#e6e6e6"/>
<g class="crisp">
<polygon points="342.45,499.1 349.78,498.1 349.78,515.5 342.45,515.5" fill="#003f87"/>
<polygon points="349.48,498.1 356.82,495.5 356.82,515.5 349.48,515.5" fill="#003f87"/>
<polygon points="356.52,495.5 363.85,496 363.85,515.5 356.52,515.5" fill="#003f87"/>
<polygon points="363.55,496 370.88,496.5 370.88,515.5 363.55,515.5" fill="#003f87"/>
<polygon points="370.58,496.5 377.92,496.5 377.92,515.5 370.58,515.5" fill="#003f87"/>
<polygon points="377.62,496.5 384.95,496.5 384.95,515.5 377.62,515.5" fill="#003f87"/>
<polygon points="384.65,496.5 391.98,496.6 391.98,515.5 384.65,515.5" fill="#003f87"/>
<polygon points="391.68,496.6 399.02,496.8 399.02,515.5 391.68,515.5" fill="#003f87"/>
<polygon points="398.72,496.8 406.05,498.6 406.05,515.5 398.72,515.5" fill="#003f87"/>
<polygon points="405.75,498.6 413.08,501.7 413.08,515.5 405.75,515.5" fill="#0080ff"/>
<polygon points="412.78,501.7 420.12,503.2 420.12,515.5 412.78,515.5" fill="#0080ff"/>
<polygon points="419.82,503.2 427.15,501.7 427.15,515.5 419.82,515.5" fill="#0080ff"/>
<polygon points="426.85,501.7 434.18,502.9 434.18,515.5 426.85,515.5" fill="#0080ff"/>
<polygon points="433.88,502.9 441.22,504.5 441.22,515.5 433.88,515.5" fill="#0080ff"/>
<polygon points="440.92,504.5 448.25,505.2 448.25,515.5 440.92,515.5" fill="#00bfff"/>
<polygon points="447.95,505.2 455.28,504.2 455.28,515.5 447.95,515.5" fill="#00bfff"/>
<polygon points="454.98,504.2 462.32,502.9 462.32,515.5 454.98,515.5" fill="#0080ff"/>
<polygon points="462.02,502.9 469.35,501.7 469.35,515.5 462.02,515.5" fill="#0080ff"/>
<polygon points="469.05,501.7 476.38,500.6 476.38,515.5 469.05,515.5" fill="#0080ff"/>
<polygon points="476.08,500.6 483.42,500.4 483.42,515.5 476.08,515.5" fill="#0080ff"/>
<polygon points="483.12,500.4 490.45,501.1 490.45,515.5 483.12,515.5" fill="#0080ff"/>
<polygon points="490.15,501.1 497.48,499.1 497.48,515.5 490.15,515.5" fill="#0080ff"/>
<polygon points="497.18,499.1 504.52,499.9 504.52,515.5 497.18,515.5" fill="#003f87"/>
<polygon points="504.22,499.9 511.55,499.9 511.55,515.5 504.22,515.5" fill="#003f87"/>
<polygon points="511.25,499.9 518.58,499.9 518.58,515.5 511.25,515.5" fill="#003f87"/>
<polygon points="518.28,499.9 525.62,494.7 525.62,515.5 518.28,515.5" fill="#003f87"/>
<polygon points="525.32,494.7 532.65,491.4 532.65,515.5 525.32,515.5" fill="#008000"/>
<polygon points="532.35,491.4 539.68,489.9 539.68,515.5 532.35,515.5" fill="#11cc00"/>
<polygon points="539.38,489.9 546.72,489.2 546.72,515.5 539.38,515.5" fill="#11cc00"/>
<polygon points="546.42,489.2 553.75,488.9 553.75,515.5 546.42,515.5" fill="#11cc00"/>
<polygon points="553.45,488.9 560.78,487.8 560.78,515.5 553.45,515.5" fill="#11cc00"/>
<polygon points="560.48,487.8 567.82,486.2 567.82,515.5 560.48,515.5" fill="#33ee00"/>
<polygon points="567.52,486.2 574.85,488.3 574.85,515.5 567.52,515.5" fill="#44ff11"/>
<polygon points="574.55,488.3 581.88,491 581.88,515.5 574.55,515.5" fill="#33ee00"/>
<polygon points="581.58,491 588.92,493.7 588.92,515.5 581.58,515.5" fill="#008000"/>
<polygon points="588.62,493.7 595.95,494.5 595.95,515.5 588.62,515.5" fill="#008000"/>
<polygon points="595.65,494.5 602.98,496.4 602.98,515.5 595.65,515.5" fill="#008000"/>
<polygon points="602.68,496.4 610.02,496.9 610.02,515.5 602.68,515.5" fill="#003f87"/>
<polygon points="609.72,496.9 617.05,497.2 617.05,515.5 609.72,515.5" fill="#003f87"/>
<polygon points="616.75,497.2 624.08,496.9 624.08,515.5 616.75,515.5" fill="#003f87"/>
<polygon points="623.78,496.9 631.12,494.5 631.12,515.5 623.78,515.5" fill="#008000"/>
<polygon points="630.82,494.5 638.15,493.7 638.15,515.5 630.82,515.5" fill="#008000"/>
<polygon points="637.85,493.7 645.18,493.7 645.18,515.5 637.85,515.5" fill="#008000"/>
<polygon points="644.88,493.7 652.22,491.8 652.22,515.5 644.88,515.5" fill="#008000"/>
<polygon points="651.92,491.8 659.25,489.7 659.25,515.5 651.92,515.5" fill="#11cc00"/>
<polygon points="658.95,489.7 666.28,487.5 666.28,515.5 658.95,515.5" fill="#11cc00"/>
<polygon points="665.98,487.5 673.32,489.2 673.32,515.5 665.98,515.5" fill="#33ee00"/>
<polygon points="673.02,489.2 680.35,489.4 680.35,515.5 673.02,515.5" fill="#11cc00"/>
<polygon points="680.05,489.4 687.38,488.9 687.38,515.5 680.05,515.5" fill="#11cc00"/>
<polygon points="687.08,488.9 694.41,489.7 694.41,515.5 687.08,515.5" fill="#11cc00"/>
<polygon points="694.12,489.7 701.45,489.2 701.45,515.5 694.12,515.5" fill="#11cc00"/>
<polygon points="701.15,489.2 708.48,487.5 708.48,515.5 701.15,515.5" fill="#11cc00"/>
<polygon points="708.18,487.5 715.51,485.7 715.51,515.5 708.18,515.5" fill="#33ee00"/>
<polygon points="715.21,485.7 722.55,484.9 722.55,515.5 715.21,515.5" fill="#33ee00"/>
<polygon points="722.25,484.9 729.58,485.1 729.58,515.5 722.25,515.5" fill="#33ee00"/>
<polygon points="729.28,485.1 736.61,483.8 736.61,515.5 729.28,515.5" fill="#66ff33"/>
<polygon points="736.31,483.8 743.65,484.3 743.65,515.5 736.31,515.5" fill="#66ff33"/>
<polygon points="743.35,484.3 750.68,486.2 750.68,515.5 743.35,515.5" fill="#33ee00"/>
<polygon points="750.38,486.2 757.71,489.7 757.71,515.5 750.38,515.5" fill="#33ee00"/>
</g>
<g class="crisp" stroke="#000" stroke-width="1" stroke-dasharray="2 2" fill="none">
<line x1="356.5" y1="437" x2="356.5" y2="515.5"/>
<line x1="377.5" y1="437" x2="377.5" y2="515.5"/>
<line x1="398.5" y1="437" x2="398.5" y2="515.5"/>
<line x1="419.5" y1="437" x2="419.5" y2="515.5"/>
<line x1="440.5" y1="437" x2="440.5" y2="515.5"/>
<line x1="462.5" y1="437" x2="462.5" y2="515.5"/>
<line x1="483.5" y1="437" x2="483.5" y2="515.5"/>
<line x1="504.5" y1="437" x2="504.5" y2="515.5"/>
<line x1="525.5" y1="437" x2="525.5" y2="515.5"/>
<line x1="546.5" y1="437" x2="546.5" y2="515.5"/>
<line x1="567.5" y1="437" x2="567.5" y2="515.5"/>
<line x1="588.5" y1="437" x2="588.5" y2="515.5"/>
<line x1="609.5" y1="437" x2="609.5" y2="515.5"/>
<line x1="630.5" y1="437" x2="630.5" y2="515.5"/>
<line x1="651.5" y1="437" x2="651.5" y2="515.5"/>
<line x1="673.5" y1="437" x2="673.5" y2="515.5"/>
<line x1="694.5" y1="437" x2="694.5" y2="515.5"/>
<line x1="715.5" y1="437" x2="715.5" y2="515.5"/>
<line x1="736.5" y1="437" x2="736.5" y2="515.5"/>
<line x1="342.5" y1="438.5" x2="757.5" y2="438.5"/>
<line x1="342.5" y1="457.5" x2="757.5" y2="457.5"/>
<line x1="342.5" y1="476.5" x2="757.5" y2="476.5"/>
<line x1="342.5" y1="496.5" x2="757.5" y2="496.5"/>
</g>
<rect class="crisp" x="342.5" y="437.5" width="415" height="78" fill="none" stroke="#000" stroke-width="1"/>
<line class="crisp" x1="342" y1="436.5" x2="758" y2="436.5" stroke="#777" stroke-width="1"/>
<polyline points="342.45,499.1 349.48,498.1 356.52,495.5 363.55,496 370.58,496.5 377.62,496.5 384.65,496.5 391.68,496.6 398.72,496.8 405.75,498.6 412.78,501.7 419.82,503.2 426.85,501.7 433.88,502.9 440.92,504.5 447.95,505.2 454.98,504.2 462.02,502.9 469.05,501.7 476.08,500.6 483.12,500.4 490.15,501.1 497.18,499.1 504.22,499.9 511.25,499.9 518.28,499.9 525.32,494.7 532.35,491.4 539.38,489.9 546.42,489.2 553.45,488.9 560.48,487.8 567.52,486.2 574.55,488.3 581.58,491 588.62,493.7 595.65,494.5 602.68,496.4 609.72,496.9 616.75,497.2 623.78,496.9 630.82,494.5 637.85,493.7 644.88,493.7 651.92,491.8 658.95,489.7 665.98,487.5 673.02,489.2 680.05,489.4 687.08,488.9 694.12,489.7 701.15,489.2 708.18,487.5 715.21,485.7 722.25,484.9 729.28,485.1 736.31,483.8 743.35,484.3 750.38,486.2 757.41,489.7" fill="none" stroke="#00009c" stroke-width="1.8" stroke-linejoin="round"/>
<g stroke="#ff0000" stroke-width="1" class="crisp">
<line x1="342.45" y1="475.5" x2="349.48" y2="475.5"/>
<line x1="349.48" y1="470.5" x2="356.52" y2="470.5"/>
<line x1="356.52" y1="468.5" x2="363.55" y2="468.5"/>
<line x1="363.55" y1="468.5" x2="370.58" y2="468.5"/>
<line x1="370.58" y1="469.5" x2="377.62" y2="469.5"/>
<line x1="377.62" y1="471.5" x2="384.65" y2="471.5"/>
<line x1="384.65" y1="471.5" x2="391.68" y2="471.5"/>
<line x1="391.68" y1="472.5" x2="398.72" y2="472.5"/>
<line x1="398.72" y1="475.5" x2="405.75" y2="475.5"/>
<line x1="405.75" y1="480.5" x2="412.78" y2="480.5"/>
<line x1="412.78" y1="485.5" x2="419.82" y2="485.5"/>
<line x1="419.82" y1="486.5" x2="426.85" y2="486.5"/>
<line x1="426.85" y1="486.5" x2="433.88" y2="486.5"/>
<line x1="433.88" y1="488.5" x2="440.92" y2="488.5"/>
<line x1="440.92" y1="488.5" x2="447.95" y2="488.5"/>
<line x1="447.95" y1="487.5" x2="454.98" y2="487.5"/>
<line x1="454.98" y1="485.5" x2="462.02" y2="485.5"/>
<line x1="462.02" y1="484.5" x2="469.05" y2="484.5"/>
<line x1="469.05" y1="481.5" x2="476.08" y2="481.5"/>
<line x1="476.08" y1="480.5" x2="483.12" y2="480.5"/>
<line x1="483.12" y1="480.5" x2="490.15" y2="480.5"/>
<line x1="490.15" y1="478.5" x2="497.18" y2="478.5"/>
<line x1="497.18" y1="478.5" x2="504.22" y2="478.5"/>
<line x1="504.22" y1="478.5" x2="511.25" y2="478.5"/>
<line x1="511.25" y1="476.5" x2="518.28" y2="476.5"/>
<line x1="518.28" y1="471.5" x2="525.32" y2="471.5"/>
<line x1="525.32" y1="463.5" x2="532.35" y2="463.5"/>
<line x1="532.35" y1="460.5" x2="539.38" y2="460.5"/>
<line x1="539.38" y1="457.5" x2="546.42" y2="457.5"/>
<line x1="546.42" y1="457.5" x2="553.45" y2="457.5"/>
<line x1="553.45" y1="456.5" x2="560.48" y2="456.5"/>
<line x1="560.48" y1="456.5" x2="567.52" y2="456.5"/>
<line x1="567.52" y1="455.5" x2="574.55" y2="455.5"/>
<line x1="574.55" y1="460.5" x2="581.58" y2="460.5"/>
<line x1="581.58" y1="467.5" x2="588.62" y2="467.5"/>
<line x1="588.62" y1="473.5" x2="595.65" y2="473.5"/>
<line x1="595.65" y1="473.5" x2="602.68" y2="473.5"/>
<line x1="602.68" y1="477.5" x2="609.72" y2="477.5"/>
<line x1="609.72" y1="477.5" x2="616.75" y2="477.5"/>
<line x1="616.75" y1="478.5" x2="623.78" y2="478.5"/>
<line x1="623.78" y1="473.5" x2="630.82" y2="473.5"/>
<line x1="630.82" y1="469.5" x2="637.85" y2="469.5"/>
<line x1="637.85" y1="470.5" x2="644.88" y2="470.5"/>
<line x1="644.88" y1="467.5" x2="651.92" y2="467.5"/>
<line x1="651.92" y1="460.5" x2="658.95" y2="460.5"/>
<line x1="658.95" y1="458.5" x2="665.98" y2="458.5"/>
<line x1="665.98" y1="460.5" x2="673.02" y2="460.5"/>
<line x1="673.02" y1="459.5" x2="680.05" y2="459.5"/>
<line x1="680.05" y1="458.5" x2="687.08" y2="458.5"/>
<line x1="687.08" y1="457.5" x2="694.12" y2="457.5"/>
<line x1="694.12" y1="455.5" x2="701.15" y2="455.5"/>
<line x1="701.15" y1="454.5" x2="708.18" y2="454.5"/>
<line x1="708.18" y1="451.5" x2="715.21" y2="451.5"/>
<line x1="715.21" y1="449.5" x2="722.25" y2="449.5"/>
<line x1="722.25" y1="449.5" x2="729.28" y2="449.5"/>
<line x1="729.28" y1="451.5" x2="736.31" y2="451.5"/>
<line x1="736.31" y1="451.5" x2="743.35" y2="451.5"/>
<line x1="743.35" y1="453.5" x2="750.38" y2="453.5"/>
<line x1="750.38" y1="454.5" x2="757.41" y2="454.5"/>
</g>
<text x="337.6" y="443.65" font-size="11.2" fill="#000" stroke="#000" stroke-width="0.14" text-anchor="end">20</text>
<text x="337.6" y="462.25" font-size="11.2" fill="#000" stroke="#000" stroke-width="0.14" text-anchor="end">15</text>
<text x="337.6" y="481.05" font-size="11.2" fill="#000" stroke="#000" stroke-width="0.14" text-anchor="end">10</text>
<text x="337.6" y="499.85" font-size="11.2" fill="#000" stroke="#000" stroke-width="0.14" text-anchor="end">5</text>
<text x="337.6" y="518.65" font-size="11.2" fill="#000" stroke="#000" stroke-width="0.14" text-anchor="end">0</text>
<text x="767.7" y="443.25" font-size="11.2" fill="#000" stroke="#000" stroke-width="0.14" text-anchor="middle">72</text>
<text x="767.7" y="462.45" font-size="11.2" fill="#000" stroke="#000" stroke-width="0.14" text-anchor="middle">54</text>
<text x="767.7" y="481.05" font-size="11.2" fill="#000" stroke="#000" stroke-width="0.14" text-anchor="middle">36</text>
<text x="767.7" y="500.15" font-size="11.2" fill="#000" stroke="#000" stroke-width="0.14" text-anchor="middle">18</text>
<text x="767.7" y="519.05" font-size="11.2" fill="#000" stroke="#000" stroke-width="0.14" text-anchor="middle">0</text>
<text transform="translate(293.3 481) rotate(-90)" font-size="13" fill="#00008b" stroke="#00008b" stroke-width="0.14" text-anchor="middle" textLength="25.8" lengthAdjust="spacingAndGlyphs">wiatr</text>
<text transform="translate(306 481.4) rotate(-90)" font-size="13" fill="#00008b" stroke="#00008b" stroke-width="0.14" text-anchor="middle" textLength="27.5" lengthAdjust="spacingAndGlyphs">(m/s)</text>
<text transform="translate(802 481.6) rotate(-90)" font-size="13" fill="#00008b" stroke="#00008b" stroke-width="0.14" text-anchor="middle" textLength="33" lengthAdjust="spacingAndGlyphs">(km/h)</text>
<text transform="translate(815 481.1) rotate(-90)" font-size="13" fill="#00008b" stroke="#00008b" stroke-width="0.14" text-anchor="middle" textLength="25" lengthAdjust="spacingAndGlyphs">wiatr</text>
<line x1="342" y1="552.5" x2="758" y2="552.5" stroke="#999" stroke-width="1" class="crisp"/>
<rect x="342.5" y="521" width="415" height="30.5" fill="#fff"/>
<rect x="418.2" y="521" width="66.8" height="30.5" fill="#e6e6e6"/>
<rect x="587" y="521" width="66.8" height="30.5" fill="#e6e6e6"/>
<g class="crisp" stroke="#000" stroke-width="1" stroke-dasharray="2 2" fill="none">
<line x1="356.5" y1="521" x2="356.5" y2="551.5"/>
<line x1="377.5" y1="521" x2="377.5" y2="551.5"/>
<line x1="398.5" y1="521" x2="398.5" y2="551.5"/>
<line x1="419.5" y1="521" x2="419.5" y2="551.5"/>
<line x1="440.5" y1="521" x2="440.5" y2="551.5"/>
<line x1="462.5" y1="521" x2="462.5" y2="551.5"/>
<line x1="483.5" y1="521" x2="483.5" y2="551.5"/>
<line x1="504.5" y1="521" x2="504.5" y2="551.5"/>
<line x1="525.5" y1="521" x2="525.5" y2="551.5"/>
<line x1="546.5" y1="521" x2="546.5" y2="551.5"/>
<line x1="567.5" y1="521" x2="567.5" y2="551.5"/>
<line x1="588.5" y1="521" x2="588.5" y2="551.5"/>
<line x1="609.5" y1="521" x2="609.5" y2="551.5"/>
<line x1="630.5" y1="521" x2="630.5" y2="551.5"/>
<line x1="651.5" y1="521" x2="651.5" y2="551.5"/>
<line x1="673.5" y1="521" x2="673.5" y2="551.5"/>
<line x1="694.5" y1="521" x2="694.5" y2="551.5"/>
<line x1="715.5" y1="521" x2="715.5" y2="551.5"/>
<line x1="736.5" y1="521" x2="736.5" y2="551.5"/>
</g>
<rect class="crisp" x="342.5" y="521.5" width="415" height="30" fill="none" stroke="#000" stroke-width="1"/>
<line class="crisp" x1="342" y1="520.5" x2="758" y2="520.5" stroke="#777" stroke-width="1"/>
<g stroke="#0000a8" stroke-width="1.2" fill="#0000a8">
<path d="M342.45 530.7L342.45 538.7" fill="none"/>
<path d="M342.45 544.3L339.85 538.7L345.05 538.7Z" stroke="none"/>
<path d="M350.66 530.8L349.27 538.68" fill="none"/>
<path d="M348.3 544.2L346.71 538.23L351.84 539.13Z" stroke="none"/>
<path d="M358.33 530.95L356.2 538.66" fill="none"/>
<path d="M354.7 544.05L353.69 537.96L358.7 539.35Z" stroke="none"/>
<path d="M365.99 531.15L363.12 538.62" fill="none"/>
<path d="M361.11 543.85L360.69 537.69L365.55 539.55Z" stroke="none"/>
<path d="M373.56 531.39L370.06 538.58" fill="none"/>
<path d="M367.6 543.61L367.72 537.44L372.39 539.72Z" stroke="none"/>
<path d="M380.6 531.39L377.09 538.58" fill="none"/>
<path d="M374.64 543.61L374.75 537.44L379.43 539.72Z" stroke="none"/>
<path d="M387.63 531.39L384.12 538.58" fill="none"/>
<path d="M381.67 543.61L381.79 537.44L386.46 539.72Z" stroke="none"/>
<path d="M394.34 531.24L391.21 538.6" fill="none"/>
<path d="M389.03 543.76L388.82 537.59L393.61 539.62Z" stroke="none"/>
<path d="M400.82 531.03L398.35 538.64" fill="none"/>
<path d="M396.62 543.97L395.87 537.84L400.82 539.44Z" stroke="none"/>
<path d="M406.34 530.73L405.65 538.7" fill="none"/>
<path d="M405.16 544.27L403.06 538.47L408.24 538.92Z" stroke="none"/>
<path d="M412.07 530.74L412.91 538.69" fill="none"/>
<path d="M413.49 544.26L410.32 538.97L415.49 538.42Z" stroke="none"/>
<path d="M418.4 530.85L420.07 538.67" fill="none"/>
<path d="M421.23 544.15L417.52 539.21L422.61 538.13Z" stroke="none"/>
<path d="M422.3 532.45L427.65 538.39" fill="none"/>
<path d="M431.4 542.55L425.72 540.13L429.58 536.65Z" stroke="none"/>
<path d="M429.25 532.53L434.7 538.38" fill="none"/>
<path d="M438.52 542.47L432.8 540.15L436.6 536.6Z" stroke="none"/>
<path d="M436.19 532.61L441.75 538.36" fill="none"/>
<path d="M445.64 542.39L439.88 540.17L443.62 536.56Z" stroke="none"/>
<path d="M442.59 533.31L448.9 538.24" fill="none"/>
<path d="M453.31 541.69L447.29 540.29L450.5 536.19Z" stroke="none"/>
<path d="M449.57 533.38L455.94 538.23" fill="none"/>
<path d="M460.4 541.62L454.36 540.3L457.51 536.16Z" stroke="none"/>
<path d="M456.55 533.46L462.98 538.21" fill="none"/>
<path d="M467.48 541.54L461.43 540.3L464.53 536.12Z" stroke="none"/>
<path d="M463.53 533.53L470.02 538.2" fill="none"/>
<path d="M474.57 541.47L468.5 540.31L471.54 536.09Z" stroke="none"/>
<path d="M470.51 533.6L477.07 538.19" fill="none"/>
<path d="M481.65 541.4L475.57 540.32L478.56 536.06Z" stroke="none"/>
<path d="M477.55 533.6L484.1 538.19" fill="none"/>
<path d="M488.69 541.4L482.61 540.32L485.59 536.06Z" stroke="none"/>
<path d="M484.58 533.6L491.13 538.19" fill="none"/>
<path d="M495.72 541.4L489.64 540.32L492.62 536.06Z" stroke="none"/>
<path d="M491.61 533.6L498.17 538.19" fill="none"/>
<path d="M502.75 541.4L496.67 540.32L499.66 536.06Z" stroke="none"/>
<path d="M498.88 533.28L505.16 538.24" fill="none"/>
<path d="M509.55 541.72L503.54 540.28L506.77 536.2Z" stroke="none"/>
<path d="M506.17 532.98L512.15 538.3" fill="none"/>
<path d="M516.33 542.02L510.42 540.24L513.87 536.36Z" stroke="none"/>
<path d="M513.47 532.69L519.13 538.35" fill="none"/>
<path d="M523.09 542.31L517.29 540.19L520.97 536.51Z" stroke="none"/>
<path d="M520.81 532.41L526.11 538.4" fill="none"/>
<path d="M529.82 542.59L524.16 540.12L528.06 536.68Z" stroke="none"/>
<path d="M528.16 532.14L533.09 538.45" fill="none"/>
<path d="M536.54 542.86L531.04 540.05L535.14 536.84Z" stroke="none"/>
<path d="M535.58 531.86L540.05 538.49" fill="none"/>
<path d="M543.18 543.14L537.9 539.95L542.21 537.04Z" stroke="none"/>
<path d="M543.02 531.61L547.02 538.54" fill="none"/>
<path d="M549.82 543.39L544.76 539.84L549.27 537.24Z" stroke="none"/>
<path d="M551.12 531.11L553.86 538.63" fill="none"/>
<path d="M555.77 543.89L551.42 539.52L556.3 537.74Z" stroke="none"/>
<path d="M558.16 531.11L560.89 538.63" fill="none"/>
<path d="M562.81 543.89L558.45 539.52L563.34 537.74Z" stroke="none"/>
<path d="M564.64 531.34L568.02 538.59" fill="none"/>
<path d="M570.39 543.66L565.67 539.69L570.38 537.49Z" stroke="none"/>
<path d="M570.18 532.29L575.32 538.42" fill="none"/>
<path d="M578.92 542.71L573.33 540.09L577.31 536.75Z" stroke="none"/>
<path d="M576.57 532.91L582.47 538.31" fill="none"/>
<path d="M586.6 542.09L580.71 540.23L584.22 536.39Z" stroke="none"/>
<path d="M583.05 533.6L589.6 538.19" fill="none"/>
<path d="M594.19 541.4L588.11 540.32L591.09 536.06Z" stroke="none"/>
<path d="M589.85 533.95L596.67 538.13" fill="none"/>
<path d="M601.45 541.05L595.31 540.34L598.03 535.91Z" stroke="none"/>
<path d="M596.68 534.31L603.74 538.06" fill="none"/>
<path d="M608.69 540.69L602.52 540.36L604.96 535.77Z" stroke="none"/>
<path d="M603.33 535.17L610.84 537.91" fill="none"/>
<path d="M616.11 539.83L609.95 540.35L611.73 535.47Z" stroke="none"/>
<path d="M610.36 535.17L617.88 537.91" fill="none"/>
<path d="M623.14 539.83L616.99 540.35L618.77 535.47Z" stroke="none"/>
<path d="M617.39 535.17L624.91 537.91" fill="none"/>
<path d="M630.17 539.83L624.02 540.35L625.8 535.47Z" stroke="none"/>
<path d="M625.46 533.31L631.76 538.24" fill="none"/>
<path d="M636.17 541.69L630.16 540.29L633.36 536.19Z" stroke="none"/>
<path d="M632.64 533.13L638.77 538.27" fill="none"/>
<path d="M643.06 541.87L637.1 540.26L640.44 536.28Z" stroke="none"/>
<path d="M639.83 532.95L645.77 538.3" fill="none"/>
<path d="M649.94 542.05L644.03 540.24L647.51 536.37Z" stroke="none"/>
<path d="M648.01 531.93L652.6 538.48" fill="none"/>
<path d="M655.82 543.07L650.47 539.97L654.73 536.99Z" stroke="none"/>
<path d="M655.86 531.44L659.49 538.57" fill="none"/>
<path d="M662.04 543.56L657.18 539.75L661.81 537.39Z" stroke="none"/>
<path d="M663.22 531.29L666.47 538.6" fill="none"/>
<path d="M668.75 543.71L664.09 539.65L668.85 537.54Z" stroke="none"/>
<path d="M671.83 530.8L673.22 538.68" fill="none"/>
<path d="M674.2 544.2L670.66 539.13L675.78 538.23Z" stroke="none"/>
<path d="M678.98 530.78L680.24 538.69" fill="none"/>
<path d="M681.11 544.22L677.67 539.09L682.8 538.28Z" stroke="none"/>
<path d="M686.14 530.77L687.25 538.69" fill="none"/>
<path d="M688.03 544.23L684.67 539.05L689.82 538.33Z" stroke="none"/>
<path d="M692.36 530.93L694.43 538.66" fill="none"/>
<path d="M695.87 544.07L691.91 539.33L696.94 537.99Z" stroke="none"/>
<path d="M698.27 531.34L701.66 538.59" fill="none"/>
<path d="M704.02 543.66L699.3 539.69L704.01 537.49Z" stroke="none"/>
<path d="M705.24 531.37L708.7 538.58" fill="none"/>
<path d="M711.12 543.63L706.36 539.71L711.04 537.46Z" stroke="none"/>
<path d="M712.21 531.4L715.75 538.58" fill="none"/>
<path d="M718.22 543.6L713.41 539.73L718.08 537.43Z" stroke="none"/>
<path d="M719.17 531.43L722.79 538.57" fill="none"/>
<path d="M725.32 543.57L720.47 539.75L725.11 537.4Z" stroke="none"/>
<path d="M726.14 531.47L729.84 538.56" fill="none"/>
<path d="M732.42 543.53L727.53 539.76L732.14 537.36Z" stroke="none"/>
<path d="M733.11 531.5L736.88 538.56" fill="none"/>
<path d="M739.52 543.5L734.59 539.78L739.17 537.33Z" stroke="none"/>
<path d="M740.08 531.54L743.93 538.55" fill="none"/>
<path d="M746.62 543.46L741.65 539.8L746.2 537.3Z" stroke="none"/>
<path d="M747.05 531.57L750.97 538.55" fill="none"/>
<path d="M753.72 543.43L748.7 539.82L753.24 537.27Z" stroke="none"/>
<path d="M754.01 531.61L758.01 538.54" fill="none"/>
<path d="M760.81 543.39L755.76 539.84L760.27 537.24Z" stroke="none"/>
</g>
<text x="295" y="531" font-size="11" fill="#00008b" stroke="#00008b" stroke-width="0.14">N</text>
<text x="284" y="539.7" font-size="11" fill="#00008b" stroke="#00008b" stroke-width="0.14">W</text>
<text x="301.6" y="539.7" font-size="11" fill="#00008b" stroke="#00008b" stroke-width="0.14" textLength="6.4" lengthAdjust="spacingAndGlyphs">E</text>
<text x="294.6" y="547.2" font-size="11" fill="#00008b" stroke="#00008b" stroke-width="0.14">S</text>
<text x="804" y="531" font-size="11" fill="#00008b" stroke="#00008b" stroke-width="0.14">N</text>
<text x="793" y="539.7" font-size="11" fill="#00008b" stroke="#00008b" stroke-width="0.14">W</text>
<text x="810.6" y="539.7" font-size="11" fill="#00008b" stroke="#00008b" stroke-width="0.14" textLength="6.4" lengthAdjust="spacingAndGlyphs">E</text>
<text x="803.6" y="547.2" font-size="11" fill="#00008b" stroke="#00008b" stroke-width="0.14">S</text>
<rect x="342.5" y="558" width="415" height="78.5" fill="#87cefa"/>
<rect x="418.2" y="558" width="66.8" height="78.5" fill="#7cbeec"/>
<rect x="587" y="558" width="66.8" height="78.5" fill="#7cbeec"/>
<polyline points="342.45,570.1 349.48,569.7 356.52,568.7 363.55,568.35 370.58,568 377.62,568 384.65,568 391.68,568.2 398.72,568.4 405.75,569.6 412.78,570.9 419.82,572.3 426.85,574.3 433.88,575.5 440.92,576.9 447.95,578.6 454.98,579 462.02,579.1 469.05,581.2 476.08,581.8 483.12,579 490.15,576.9 497.18,576.05 504.22,575.2 511.25,574.5 518.28,573.8 525.32,572.6 532.35,569.6 539.38,568 546.42,567.2 553.45,567 560.48,567.2 567.52,570.1 574.55,571.8 581.58,573.8 588.62,574.9 595.65,575.2 602.68,575.5 609.72,576 616.75,576.25 623.78,576.32 630.82,576.4 637.85,576.3 644.88,576.2 651.92,574.4 658.95,573.1 665.98,571.8 673.02,569.8 680.05,567.6 687.08,566.2 694.12,565.8 701.15,566.7 708.18,567 715.21,567.3 722.25,567.4 729.28,567.5 736.31,567.6 743.35,567.73 750.38,567.87 757.41,568" fill="none" stroke="#ff9500" stroke-width="2" stroke-linejoin="round"/>
<clipPath id="mc6"><rect x="343" y="558" width="414.5" height="78.5"/></clipPath>
<g clip-path="url(#mc6)">
<circle cx="546.42" cy="598.2" r="2.6" fill="#a81c1c"/>
<circle cx="623.78" cy="598.2" r="2.6" fill="#a81c1c"/>
<circle cx="630.82" cy="596.5" r="2.6" fill="#a81c1c"/>
<circle cx="637.85" cy="596.3" r="2.6" fill="#a81c1c"/>
<circle cx="673.02" cy="611.2" r="2.6" fill="#a81c1c"/>
<circle cx="694.12" cy="605.5" r="2.6" fill="#a81c1c"/>
<circle cx="701.15" cy="605.5" r="2.6" fill="#a81c1c"/>
<circle cx="708.18" cy="605.5" r="2.6" fill="#a81c1c"/>
<circle cx="715.21" cy="603.7" r="2.6" fill="#a81c1c"/>
<circle cx="757.41" cy="605.5" r="2.6" fill="#a81c1c"/>
<circle cx="370.58" cy="580" r="2.6" fill="#ffffff"/>
<circle cx="377.62" cy="583.4" r="2.6" fill="#ffffff"/>
<circle cx="384.65" cy="583.4" r="2.6" fill="#ffffff"/>
<circle cx="391.68" cy="579" r="2.6" fill="#ffffff"/>
<circle cx="405.75" cy="579" r="2.6" fill="#ffffff"/>
<circle cx="398.72" cy="601.3" r="2.6" fill="#ffffff"/>
<circle cx="412.78" cy="592.3" r="2.6" fill="#ffffff"/>
<circle cx="419.82" cy="594" r="2.6" fill="#ffffff"/>
<circle cx="426.85" cy="594.5" r="2.6" fill="#ffffff"/>
<circle cx="433.88" cy="581.2" r="2.6" fill="#ffffff"/>
<circle cx="440.92" cy="583.4" r="2.6" fill="#ffffff"/>
<circle cx="447.95" cy="584.2" r="2.6" fill="#ffffff"/>
<circle cx="454.98" cy="601.7" r="2.6" fill="#ffffff"/>
<circle cx="462.02" cy="628.6" r="2.6" fill="#ffffff"/>
<circle cx="469.05" cy="629.8" r="2.6" fill="#ffffff"/>
<circle cx="476.08" cy="629.8" r="2.6" fill="#ffffff"/>
<circle cx="483.12" cy="629.8" r="2.6" fill="#ffffff"/>
<circle cx="490.15" cy="629.5" r="2.6" fill="#ffffff"/>
<circle cx="497.18" cy="628.1" r="2.6" fill="#ffffff"/>
<circle cx="504.22" cy="626.4" r="2.6" fill="#ffffff"/>
<circle cx="511.25" cy="621.3" r="2.6" fill="#ffffff"/>
<circle cx="518.28" cy="606.8" r="2.6" fill="#ffffff"/>
<circle cx="525.32" cy="577.8" r="2.6" fill="#ffffff"/>
<circle cx="532.35" cy="576.9" r="2.6" fill="#ffffff"/>
<circle cx="539.38" cy="576" r="2.6" fill="#ffffff"/>
<circle cx="546.42" cy="606.8" r="2.6" fill="#ffffff"/>
<circle cx="553.45" cy="603.4" r="2.6" fill="#ffffff"/>
<circle cx="560.48" cy="603" r="2.6" fill="#ffffff"/>
<circle cx="567.52" cy="606.8" r="2.6" fill="#ffffff"/>
<circle cx="574.55" cy="608" r="2.6" fill="#ffffff"/>
<circle cx="581.58" cy="613.3" r="2.6" fill="#ffffff"/>
<circle cx="588.62" cy="609.7" r="2.6" fill="#ffffff"/>
<circle cx="595.65" cy="618.7" r="2.6" fill="#ffffff"/>
<circle cx="602.68" cy="587.1" r="2.6" fill="#ffffff"/>
<circle cx="609.72" cy="589.7" r="2.6" fill="#ffffff"/>
<circle cx="616.75" cy="606.6" r="2.6" fill="#ffffff"/>
<circle cx="623.78" cy="607" r="2.6" fill="#ffffff"/>
<circle cx="630.82" cy="623.4" r="2.6" fill="#ffffff"/>
<circle cx="637.85" cy="625.3" r="2.6" fill="#ffffff"/>
<circle cx="651.92" cy="625.3" r="2.6" fill="#ffffff"/>
<circle cx="658.95" cy="628" r="2.6" fill="#ffffff"/>
<circle cx="665.98" cy="627.4" r="2.6" fill="#ffffff"/>
<circle cx="673.02" cy="622" r="2.6" fill="#ffffff"/>
<circle cx="680.05" cy="614.6" r="2.6" fill="#ffffff"/>
<circle cx="687.08" cy="609.7" r="2.6" fill="#ffffff"/>
<circle cx="694.12" cy="608.2" r="2.6" fill="#ffffff"/>
<circle cx="701.15" cy="608.2" r="2.6" fill="#ffffff"/>
<circle cx="708.18" cy="608.2" r="2.6" fill="#ffffff"/>
<circle cx="715.21" cy="608.2" r="2.6" fill="#ffffff"/>
<circle cx="722.25" cy="610.1" r="2.6" fill="#ffffff"/>
<circle cx="729.28" cy="610.1" r="2.6" fill="#ffffff"/>
<circle cx="736.31" cy="611.2" r="2.6" fill="#ffffff"/>
<circle cx="743.35" cy="609.7" r="2.6" fill="#ffffff"/>
<circle cx="757.41" cy="609.3" r="2.6" fill="#ffffff"/>
<circle cx="377.62" cy="579.5" r="2.6" fill="#cccccc"/>
<circle cx="398.72" cy="575.7" r="2.6" fill="#dddddd"/>
<circle cx="440.92" cy="580.3" r="2.6" fill="#cccccc"/>
<circle cx="447.95" cy="580.8" r="2.6" fill="#aaaaaa"/>
<circle cx="454.98" cy="582.5" r="2.6" fill="#cccccc"/>
<circle cx="469.05" cy="626.1" r="2.6" fill="#999999"/>
<circle cx="476.08" cy="628" r="2.6" fill="#aaaaaa"/>
<circle cx="476.08" cy="625.6" r="2.6" fill="#555555"/>
<circle cx="483.12" cy="625.2" r="2.6" fill="#000000"/>
<circle cx="490.15" cy="624.7" r="2.6" fill="#666666"/>
<circle cx="497.18" cy="624.8" r="2.6" fill="#aaaaaa"/>
<circle cx="497.18" cy="621" r="2.6" fill="#666666"/>
<circle cx="504.22" cy="621" r="2.6" fill="#cccccc"/>
<circle cx="511.25" cy="577.8" r="2.6" fill="#aaaaaa"/>
<circle cx="518.28" cy="576.9" r="2.6" fill="#cccccc"/>
<circle cx="532.35" cy="574.3" r="2.6" fill="#dddddd"/>
<circle cx="546.42" cy="599.1" r="2.6" fill="#999999"/>
<circle cx="553.45" cy="599.4" r="2.6" fill="#999999"/>
<circle cx="560.48" cy="597.7" r="2.6" fill="#555555"/>
<circle cx="574.55" cy="601.7" r="2.6" fill="#999999"/>
<circle cx="567.52" cy="573.8" r="2.6" fill="#cccccc"/>
<circle cx="581.58" cy="579" r="2.6" fill="#aaaaaa"/>
<circle cx="581.58" cy="573.5" r="2.6" fill="#666666"/>
<circle cx="588.62" cy="583.4" r="2.6" fill="#888888"/>
<circle cx="588.62" cy="573.1" r="2.6" fill="#666666"/>
<circle cx="595.65" cy="584.2" r="2.6" fill="#aaaaaa"/>
<circle cx="595.65" cy="575.2" r="2.6" fill="#555555"/>
<circle cx="602.68" cy="583.4" r="2.6" fill="#aaaaaa"/>
<circle cx="602.68" cy="579.5" r="2.6" fill="#555555"/>
<circle cx="609.72" cy="580.3" r="2.6" fill="#cccccc"/>
<circle cx="609.72" cy="572.1" r="2.6" fill="#555555"/>
<circle cx="616.75" cy="579.5" r="2.6" fill="#cccccc"/>
<circle cx="616.75" cy="575.3" r="2.6" fill="#777777"/>
<circle cx="623.78" cy="602.8" r="2.6" fill="#555555"/>
<circle cx="630.82" cy="605" r="2.6" fill="#999999"/>
<circle cx="630.82" cy="601.8" r="2.6" fill="#000000"/>
<circle cx="637.85" cy="607.5" r="2.6" fill="#aaaaaa"/>
<circle cx="637.85" cy="603.3" r="2.6" fill="#000000"/>
<circle cx="644.88" cy="611.9" r="2.6" fill="#dddddd"/>
<circle cx="644.88" cy="607.9" r="2.6" fill="#aaaaaa"/>
<circle cx="644.88" cy="601.5" r="2.6" fill="#000000"/>
<circle cx="651.92" cy="601.5" r="2.6" fill="#cccccc"/>
<circle cx="658.95" cy="621.6" r="2.6" fill="#aaaaaa"/>
<circle cx="658.95" cy="616.5" r="2.6" fill="#555555"/>
<circle cx="665.98" cy="621.6" r="2.6" fill="#aaaaaa"/>
<circle cx="665.98" cy="617" r="2.6" fill="#555555"/>
<circle cx="673.02" cy="616.2" r="2.6" fill="#cccccc"/>
<circle cx="687.08" cy="606.4" r="2.6" fill="#cccccc"/>
<circle cx="722.25" cy="607" r="2.6" fill="#cccccc"/>
<circle cx="729.28" cy="606.6" r="2.6" fill="#cccccc"/>
<circle cx="729.28" cy="576.4" r="2.6" fill="#aaaaaa"/>
<circle cx="736.31" cy="580.4" r="2.6" fill="#999999"/>
<circle cx="736.31" cy="575.9" r="2.6" fill="#444444"/>
<circle cx="743.35" cy="582.8" r="2.6" fill="#cccccc"/>
<circle cx="743.35" cy="580.1" r="2.6" fill="#aaaaaa"/>
<circle cx="370.58" cy="576.9" r="2.6" fill="#a81c1c"/>
<circle cx="377.62" cy="575.5" r="2.6" fill="#a81c1c"/>
<circle cx="384.65" cy="576.4" r="2.6" fill="#a81c1c"/>
<circle cx="391.68" cy="572.1" r="2.6" fill="#a81c1c"/>
<circle cx="398.72" cy="572.1" r="2.6" fill="#a81c1c"/>
<circle cx="405.75" cy="572.3" r="2.6" fill="#a81c1c"/>
<circle cx="412.78" cy="572.1" r="2.6" fill="#a81c1c"/>
<circle cx="419.82" cy="570.9" r="2.6" fill="#a81c1c"/>
<circle cx="426.85" cy="570.9" r="2.6" fill="#a81c1c"/>
<circle cx="433.88" cy="570.9" r="2.6" fill="#a81c1c"/>
<circle cx="440.92" cy="571.8" r="2.6" fill="#a81c1c"/>
<circle cx="447.95" cy="573.1" r="2.6" fill="#a81c1c"/>
<circle cx="454.98" cy="574" r="2.6" fill="#a81c1c"/>
<circle cx="462.02" cy="573.1" r="2.6" fill="#a81c1c"/>
<circle cx="469.05" cy="572.1" r="2.6" fill="#a81c1c"/>
<circle cx="476.08" cy="571.8" r="2.6" fill="#a81c1c"/>
<circle cx="483.12" cy="570.9" r="2.6" fill="#a81c1c"/>
<circle cx="490.15" cy="570.9" r="2.6" fill="#a81c1c"/>
<circle cx="497.18" cy="569.7" r="2.6" fill="#a81c1c"/>
<circle cx="504.22" cy="569.7" r="2.6" fill="#a81c1c"/>
<circle cx="511.25" cy="569.7" r="2.6" fill="#a81c1c"/>
<circle cx="518.28" cy="569.7" r="2.6" fill="#a81c1c"/>
<circle cx="525.32" cy="569.7" r="2.6" fill="#a81c1c"/>
<circle cx="532.35" cy="569.7" r="2.6" fill="#a81c1c"/>
<circle cx="539.38" cy="570.6" r="2.6" fill="#a81c1c"/>
<circle cx="553.45" cy="568.7" r="2.6" fill="#a81c1c"/>
<circle cx="560.48" cy="568.7" r="2.6" fill="#a81c1c"/>
<circle cx="567.52" cy="568.4" r="2.6" fill="#a81c1c"/>
<circle cx="574.55" cy="567.2" r="2.6" fill="#a81c1c"/>
<circle cx="581.58" cy="567.2" r="2.6" fill="#a81c1c"/>
<circle cx="588.62" cy="568.7" r="2.6" fill="#a81c1c"/>
<circle cx="595.65" cy="567.2" r="2.6" fill="#a81c1c"/>
<circle cx="602.68" cy="567.2" r="2.6" fill="#a81c1c"/>
<circle cx="609.72" cy="567.5" r="2.6" fill="#a81c1c"/>
<circle cx="616.75" cy="568.5" r="2.6" fill="#a81c1c"/>
<circle cx="644.88" cy="576.4" r="2.6" fill="#a81c1c"/>
<circle cx="651.92" cy="574.9" r="2.6" fill="#a81c1c"/>
<circle cx="658.95" cy="574.9" r="2.6" fill="#a81c1c"/>
<circle cx="665.98" cy="578.1" r="2.6" fill="#a81c1c"/>
<circle cx="680.05" cy="572.8" r="2.6" fill="#a81c1c"/>
<circle cx="687.08" cy="575.3" r="2.6" fill="#a81c1c"/>
<circle cx="722.25" cy="572.8" r="2.6" fill="#a81c1c"/>
<circle cx="729.28" cy="571.7" r="2.6" fill="#a81c1c"/>
<circle cx="736.31" cy="571.7" r="2.6" fill="#a81c1c"/>
<circle cx="743.35" cy="573.7" r="2.6" fill="#a81c1c"/>
</g>
<g class="crisp" stroke="#000" stroke-width="1" stroke-dasharray="2 2" fill="none">
<line x1="356.5" y1="558" x2="356.5" y2="636.5"/>
<line x1="377.5" y1="558" x2="377.5" y2="636.5"/>
<line x1="398.5" y1="558" x2="398.5" y2="636.5"/>
<line x1="419.5" y1="558" x2="419.5" y2="636.5"/>
<line x1="440.5" y1="558" x2="440.5" y2="636.5"/>
<line x1="462.5" y1="558" x2="462.5" y2="636.5"/>
<line x1="483.5" y1="558" x2="483.5" y2="636.5"/>
<line x1="504.5" y1="558" x2="504.5" y2="636.5"/>
<line x1="525.5" y1="558" x2="525.5" y2="636.5"/>
<line x1="546.5" y1="558" x2="546.5" y2="636.5"/>
<line x1="567.5" y1="558" x2="567.5" y2="636.5"/>
<line x1="588.5" y1="558" x2="588.5" y2="636.5"/>
<line x1="609.5" y1="558" x2="609.5" y2="636.5"/>
<line x1="630.5" y1="558" x2="630.5" y2="636.5"/>
<line x1="651.5" y1="558" x2="651.5" y2="636.5"/>
<line x1="673.5" y1="558" x2="673.5" y2="636.5"/>
<line x1="694.5" y1="558" x2="694.5" y2="636.5"/>
<line x1="715.5" y1="558" x2="715.5" y2="636.5"/>
<line x1="736.5" y1="558" x2="736.5" y2="636.5"/>
<line x1="342.5" y1="558.5" x2="757.5" y2="558.5"/>
<line x1="342.5" y1="577.5" x2="757.5" y2="577.5"/>
<line x1="342.5" y1="597.5" x2="757.5" y2="597.5"/>
<line x1="342.5" y1="616.5" x2="757.5" y2="616.5"/>
</g>
<rect class="crisp" x="342.5" y="558.5" width="415" height="78" fill="none" stroke="#000" stroke-width="1"/>
<line class="crisp" x1="342" y1="557.5" x2="758" y2="557.5" stroke="#777" stroke-width="1"/>
<rect class="crisp" x="342.5" y="558.5" width="415" height="78" fill="none" stroke="#000" stroke-width="1"/>
<text x="337.6" y="562.25" font-size="11.2" fill="#000" stroke="#000" stroke-width="0.14" text-anchor="end">15.0</text>
<text x="337.6" y="582.15" font-size="11.2" fill="#000" stroke="#000" stroke-width="0.14" text-anchor="end">7.0</text>
<text x="337.6" y="601.75" font-size="11.2" fill="#000" stroke="#000" stroke-width="0.14" text-anchor="end">2.0</text>
<text x="337.6" y="621.25" font-size="11.2" fill="#000" stroke="#000" stroke-width="0.14" text-anchor="end">0.5</text>
<text x="337.6" y="639.75" font-size="11.2" fill="#000" stroke="#000" stroke-width="0.14" text-anchor="end">0.0</text>
<text x="761.6" y="562.25" font-size="11.2" fill="#ff8000" stroke="#ff8000" stroke-width="0.14">100</text>
<text x="761.6" y="582.15" font-size="11.2" fill="#ff8000" stroke="#ff8000" stroke-width="0.14">20</text>
<text x="761.6" y="601.45" font-size="11.2" fill="#ff8000" stroke="#ff8000" stroke-width="0.14">5</text>
<text x="761.6" y="621.25" font-size="11.2" fill="#ff8000" stroke="#ff8000" stroke-width="0.14">1</text>
<text x="761.6" y="639.75" font-size="11.2" fill="#ff8000" stroke="#ff8000" stroke-width="0.14">0</text>
<text transform="translate(293.3 594.5) rotate(-90)" font-size="13" fill="#00008b" stroke="#00008b" stroke-width="0.14" text-anchor="middle" textLength="103.5" lengthAdjust="spacingAndGlyphs">pion. rozciągł. chm.</text>
<text transform="translate(306 594.5) rotate(-90)" font-size="13" fill="#00008b" stroke="#00008b" stroke-width="0.14" text-anchor="middle" textLength="23.6" lengthAdjust="spacingAndGlyphs">(km)</text>
<text transform="translate(802 594.5) rotate(-90)" font-size="13" fill="#00008b" stroke="#00008b" stroke-width="0.14" text-anchor="middle" textLength="23.6" lengthAdjust="spacingAndGlyphs">(km)</text>
<text transform="translate(815 595) rotate(-90)" font-size="13" fill="#00008b" stroke="#00008b" stroke-width="0.14" text-anchor="middle" textLength="63.6" lengthAdjust="spacingAndGlyphs">widzialność</text>
<rect x="342.5" y="645" width="415" height="15" fill="#87cefa"/>
<rect x="418.2" y="645" width="66.8" height="15" fill="#7cbeec"/>
<rect x="587" y="645" width="66.8" height="15" fill="#7cbeec"/>
<polygon points="590,661 596,653 601.8,648.4 608.7,653.2 616.3,650.8 619.5,661" fill="#fff" stroke="none" stroke-width="1"/>
<polygon points="628,661 631,646 637,646 641,652 645.5,661" fill="#555" stroke="none" stroke-width="1"/>
<polygon points="664.5,661 665.5,657 667,657 668,661" fill="#666" stroke="none" stroke-width="1"/>
<g class="crisp" stroke="#000" stroke-width="1" stroke-dasharray="2 2" fill="none">
<line x1="356.5" y1="645" x2="356.5" y2="670"/>
<line x1="377.5" y1="645" x2="377.5" y2="670"/>
<line x1="398.5" y1="645" x2="398.5" y2="670"/>
<line x1="419.5" y1="645" x2="419.5" y2="670"/>
<line x1="440.5" y1="645" x2="440.5" y2="670"/>
<line x1="462.5" y1="645" x2="462.5" y2="670"/>
<line x1="483.5" y1="645" x2="483.5" y2="670"/>
<line x1="504.5" y1="645" x2="504.5" y2="670"/>
<line x1="525.5" y1="645" x2="525.5" y2="670"/>
<line x1="546.5" y1="645" x2="546.5" y2="670"/>
<line x1="567.5" y1="645" x2="567.5" y2="670"/>
<line x1="588.5" y1="645" x2="588.5" y2="670"/>
<line x1="609.5" y1="645" x2="609.5" y2="670"/>
<line x1="630.5" y1="645" x2="630.5" y2="670"/>
<line x1="651.5" y1="645" x2="651.5" y2="670"/>
<line x1="673.5" y1="645" x2="673.5" y2="670"/>
<line x1="694.5" y1="645" x2="694.5" y2="670"/>
<line x1="715.5" y1="645" x2="715.5" y2="670"/>
<line x1="736.5" y1="645" x2="736.5" y2="670"/>
</g>
<rect class="crisp" x="342.5" y="645.5" width="415" height="24.5" fill="none" stroke="#000" stroke-width="1"/>
<line class="crisp" x1="342" y1="644.5" x2="758" y2="644.5" stroke="#777" stroke-width="1"/>
<text x="337.6" y="649.8" font-size="11.4" fill="#000" stroke="#000" stroke-width="0.14" text-anchor="end">8</text>
<text x="761.6" y="649.8" font-size="11.4" fill="#ff8000" stroke="#ff8000" stroke-width="0.14">1</text>
<text transform="translate(293.3 654.4) rotate(-90)" font-size="13" fill="#00008b" text-anchor="end">e</text>
</g>
</svg>
</body>
</html>
